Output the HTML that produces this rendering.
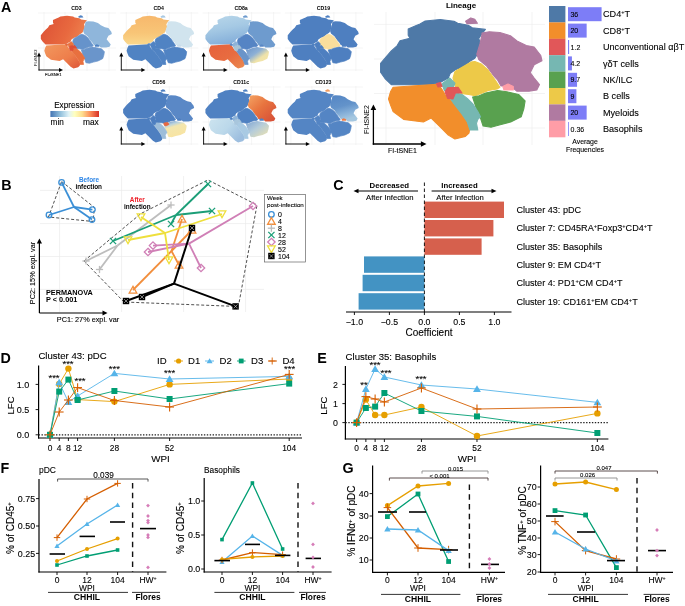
<!DOCTYPE html>
<html><head><meta charset="utf-8"><style>html,body{margin:0;padding:0;background:#fff;}svg{display:block;will-change:transform;}</style></head>
<body><svg width="685" height="606" viewBox="0 0 685 606" font-family="Liberation Sans, sans-serif">
<rect width="685" height="606" fill="#fff"/>
<text x="1.00" y="12.10" font-size="14.3" text-anchor="start" font-weight="bold" fill="#000">A</text>
<defs><linearGradient id="g3a" x1="0" y1="0.3" x2="1" y2="0.6"><stop offset="0" stop-color="#DD5236"/><stop offset="0.6" stop-color="#E8693F"/><stop offset="1" stop-color="#EE8350"/></linearGradient></defs>
<defs><linearGradient id="g3b" x1="0" y1="0" x2="1" y2="1"><stop offset="0" stop-color="#F2985E"/><stop offset="0.6" stop-color="#EE7E4B"/><stop offset="1" stop-color="#DD5537"/></linearGradient></defs>
<defs><linearGradient id="g4a" x1="0" y1="0" x2="0" y2="1"><stop offset="0" stop-color="#F7B86C"/><stop offset="0.6" stop-color="#F8C577"/><stop offset="1" stop-color="#FAD88C"/></linearGradient></defs>
<defs><linearGradient id="g8a" x1="0" y1="0" x2="0.3" y2="1"><stop offset="0" stop-color="#B9D7EA"/><stop offset="0.5" stop-color="#A5C9E4"/><stop offset="1" stop-color="#86B0DA"/></linearGradient></defs>
<defs><linearGradient id="g8b" x1="0" y1="0" x2="1" y2="1"><stop offset="0" stop-color="#E6613C"/><stop offset="0.55" stop-color="#E86C40"/><stop offset="1" stop-color="#EB8A50"/></linearGradient></defs>
<defs><linearGradient id="g8c" x1="0" y1="0" x2="1" y2="1"><stop offset="0" stop-color="#6A93C9"/><stop offset="0.4" stop-color="#8DB0D6"/><stop offset="0.65" stop-color="#EEE2AA"/><stop offset="1" stop-color="#F8E8A6"/></linearGradient></defs>
<defs><linearGradient id="g56" x1="0" y1="0" x2="0.4" y2="1"><stop offset="0" stop-color="#5C88C5"/><stop offset="0.28" stop-color="#B9D2DE"/><stop offset="0.45" stop-color="#F3E6AE"/><stop offset="1" stop-color="#F8E4A2"/></linearGradient></defs>
<defs><linearGradient id="g11a" x1="0" y1="0" x2="1" y2="1"><stop offset="0" stop-color="#F4A464"/><stop offset="0.45" stop-color="#E8743F"/><stop offset="1" stop-color="#D44B36"/></linearGradient></defs>
<defs><linearGradient id="g11b" x1="0" y1="0" x2="1" y2="0.6"><stop offset="0" stop-color="#CDE4EF"/><stop offset="0.55" stop-color="#BBD8EA"/><stop offset="1" stop-color="#9DBEDF"/></linearGradient></defs>
<defs><linearGradient id="g11c" x1="0" y1="0" x2="1" y2="1"><stop offset="0" stop-color="#7FA4D2"/><stop offset="0.45" stop-color="#B5CCDA"/><stop offset="1" stop-color="#F1E4AC"/></linearGradient></defs>
<defs><linearGradient id="g123" x1="0" y1="0" x2="0.3" y2="1"><stop offset="0" stop-color="#5485C4"/><stop offset="0.5" stop-color="#6393CA"/><stop offset="0.8" stop-color="#8AB3DA"/><stop offset="1" stop-color="#A5C7E0"/></linearGradient></defs>
<line x1="44.00" y1="12.00" x2="44.00" y2="71.00" stroke="#EBEBEB" stroke-width="0.5"/>
<line x1="65.00" y1="12.00" x2="65.00" y2="71.00" stroke="#EBEBEB" stroke-width="0.5"/>
<line x1="87.00" y1="12.00" x2="87.00" y2="71.00" stroke="#EBEBEB" stroke-width="0.5"/>
<line x1="109.00" y1="12.00" x2="109.00" y2="71.00" stroke="#EBEBEB" stroke-width="0.5"/>
<line x1="38.00" y1="13.00" x2="116.00" y2="13.00" stroke="#EBEBEB" stroke-width="0.5"/>
<line x1="38.00" y1="48.00" x2="116.00" y2="48.00" stroke="#EBEBEB" stroke-width="0.5"/>
<line x1="38.00" y1="70.00" x2="116.00" y2="70.00" stroke="#EBEBEB" stroke-width="0.5"/>
<g><polygon points="40.82,35.15 40.82,39.02 42.76,41.80 45.53,44.52 62.56,44.52 65.38,44.00 67.40,43.34 70.61,41.58 71.45,39.55 73.65,37.92 77.08,36.65 79.94,34.32 82.27,32.86 83.42,31.10 84.87,27.06 84.03,24.15 85.18,22.39 86.94,20.19 81.13,19.49 79.37,18.34 74.75,17.51 73.12,16.58 67.05,15.84 60.45,16.50 58.16,17.77 56.27,18.61 52.97,20.02 52.97,22.74 53.76,24.11 49.36,25.21 48.04,27.45 45.53,29.65 43.64,31.85" fill="url(#g3a)"/><polygon points="46.32,45.62 62.56,44.57 65.99,44.30 67.75,46.46 69.47,49.36 72.64,52.27 76.64,57.50 78.97,60.94 80.16,63.58 79.72,65.78 78.14,67.27 73.52,68.42 70.61,66.70 67.14,63.22 63.09,59.18 59.66,60.94 50.94,59.79 46.32,56.32 45.18,53.41 44.30,50.82 45.18,47.65" fill="url(#g3b)"/><polygon points="85.44,21.82 88.65,21.25 93.32,21.56 97.94,23.01 100.84,25.30 104.93,27.32 108.41,27.94 111.31,31.68 111.84,34.01 108.41,35.77 106.65,39.24 108.41,41.58 110.74,44.48 109.55,46.81 106.12,47.38 100.84,47.38 97.94,45.05 93.80,45.05 92.30,42.46 90.41,40.39 87.51,36.34 84.03,33.44 83.15,31.10 84.56,26.48 85.44,22.39" fill="#8FB6DB"/><polygon points="78.22,16.58 80.51,15.13 82.27,15.75 83.42,17.46 78.84,17.64" fill="#5083C3"/><polygon points="73.56,38.67 77.08,36.65 80.51,34.58 82.27,34.32 85.18,35.46 88.08,38.06 90.98,42.15 93.32,45.62 92.04,46.42 88.26,47.08 82.45,49.41 79.54,48.84 76.20,48.40 74.00,45.98 72.68,41.58" fill="#6693CB" stroke="#6693CB" stroke-width="0.7" stroke-linejoin="round"/><polygon points="81.30,49.98 84.21,49.41 87.07,48.22 92.30,47.08 96.35,47.65 101.54,48.84 104.40,51.70 103.83,55.17 102.69,58.65 98.07,60.94 93.45,62.12 89.40,63.27 85.92,62.70 84.78,59.22 83.02,55.17 81.88,51.70" fill="#6A95CB" stroke="#6A95CB" stroke-width="0.7" stroke-linejoin="round"/><polygon points="67.75,44.17 71.18,41.58 73.56,43.86 72.94,45.32 70.61,47.08 68.90,47.08" fill="#E9733F" stroke="#E9733F" stroke-width="0.7" stroke-linejoin="round"/><polygon points="71.49,50.55 74.35,48.22 76.64,48.84 78.97,50.55 81.30,52.84 83.59,56.32 84.78,58.65 83.59,59.79 83.02,61.55 83.59,64.46 80.16,64.46 78.97,60.94 76.64,57.50 72.64,52.27" fill="#E8703F" stroke="#E8703F" stroke-width="0.7" stroke-linejoin="round"/><polygon points="69.16,47.65 70.30,45.93 71.80,45.80 74.92,45.62 76.64,48.18 73.78,48.18 72.64,50.82 70.30,50.55" fill="#DC4F36" stroke="#DC4F36" stroke-width="0.7" stroke-linejoin="round"/><polygon points="65.42,44.00 67.18,43.56 67.84,45.32 66.08,45.54" fill="#E46A40" stroke="#E46A40" stroke-width="0.7" stroke-linejoin="round"/><polygon points="94.59,45.36 96.88,44.22 99.21,45.36 99.21,46.86 95.12,46.86" fill="#5083C3"/></g>
<text x="76.50" y="9.86" font-size="5.2" text-anchor="middle" font-weight="bold" fill="#000">CD3</text>
<line x1="39.00" y1="70.45" x2="39.00" y2="56.00" stroke="#000" stroke-width="0.9"/>
<polygon points="37.00,56.50 41.00,56.50 39.00,52.50" fill="#000"/>
<line x1="38.55" y1="70.00" x2="59.50" y2="70.00" stroke="#000" stroke-width="0.9"/>
<polygon points="59.00,68.00 59.00,72.00 63.00,70.00" fill="#000"/>
<line x1="126.30" y1="12.00" x2="126.30" y2="71.00" stroke="#EBEBEB" stroke-width="0.5"/>
<line x1="147.30" y1="12.00" x2="147.30" y2="71.00" stroke="#EBEBEB" stroke-width="0.5"/>
<line x1="169.30" y1="12.00" x2="169.30" y2="71.00" stroke="#EBEBEB" stroke-width="0.5"/>
<line x1="191.30" y1="12.00" x2="191.30" y2="71.00" stroke="#EBEBEB" stroke-width="0.5"/>
<line x1="120.30" y1="13.00" x2="198.30" y2="13.00" stroke="#EBEBEB" stroke-width="0.5"/>
<line x1="120.30" y1="48.00" x2="198.30" y2="48.00" stroke="#EBEBEB" stroke-width="0.5"/>
<line x1="120.30" y1="70.00" x2="198.30" y2="70.00" stroke="#EBEBEB" stroke-width="0.5"/>
<g><polygon points="123.12,35.15 123.12,39.02 125.06,41.80 127.83,44.52 144.86,44.52 147.68,44.00 149.70,43.34 152.91,41.58 153.75,39.55 155.95,37.92 159.38,36.65 162.24,34.32 164.57,32.86 165.72,31.10 167.17,27.06 166.33,24.15 167.48,22.39 169.24,20.19 163.43,19.49 161.67,18.34 157.05,17.51 155.42,16.58 149.35,15.84 142.75,16.50 140.46,17.77 138.57,18.61 135.27,20.02 135.27,22.74 136.06,24.11 131.66,25.21 130.34,27.45 127.83,29.65 125.94,31.85" fill="url(#g4a)"/><polygon points="128.62,45.62 144.86,44.57 148.29,44.30 150.05,46.46 151.77,49.36 154.94,52.27 158.94,57.50 161.27,60.94 162.46,63.58 162.02,65.78 160.44,67.27 155.82,68.42 152.91,66.70 149.44,63.22 145.39,59.18 141.96,60.94 133.24,59.79 128.62,56.32 127.48,53.41 126.60,50.82 127.48,47.65" fill="#5083C3"/><polygon points="167.74,21.82 170.95,21.25 175.62,21.56 180.24,23.01 183.14,25.30 187.23,27.32 190.71,27.94 193.61,31.68 194.14,34.01 190.71,35.77 188.95,39.24 190.71,41.58 193.04,44.48 191.85,46.81 188.42,47.38 183.14,47.38 180.24,45.05 176.10,45.05 174.60,42.46 172.71,40.39 169.81,36.34 166.33,33.44 165.45,31.10 166.86,26.48 167.74,22.39" fill="#D1E4EE"/><polygon points="160.52,16.58 162.81,15.13 164.57,15.75 165.72,17.46 161.14,17.64" fill="#A9C9E3"/><polygon points="155.86,38.67 159.38,36.65 162.81,34.58 164.57,34.32 167.48,35.46 170.38,38.06 173.28,42.15 175.62,45.62 174.34,46.42 170.56,47.08 164.75,49.41 161.84,48.84 158.50,48.40 156.30,45.98 154.98,41.58" fill="#5083C3" stroke="#5083C3" stroke-width="0.7" stroke-linejoin="round"/><polygon points="163.60,49.98 166.51,49.41 169.37,48.22 174.60,47.08 178.65,47.65 183.84,48.84 186.70,51.70 186.13,55.17 184.99,58.65 180.37,60.94 175.75,62.12 171.70,63.27 168.22,62.70 167.08,59.22 165.32,55.17 164.18,51.70" fill="#5083C3" stroke="#5083C3" stroke-width="0.7" stroke-linejoin="round"/><polygon points="150.05,44.17 153.48,41.58 155.86,43.86 155.24,45.32 152.91,47.08 151.20,47.08" fill="#5083C3" stroke="#5083C3" stroke-width="0.7" stroke-linejoin="round"/><polygon points="153.79,50.55 156.65,48.22 158.94,48.84 161.27,50.55 163.60,52.84 165.89,56.32 167.08,58.65 165.89,59.79 165.32,61.55 165.89,64.46 162.46,64.46 161.27,60.94 158.94,57.50 154.94,52.27" fill="#5083C3" stroke="#5083C3" stroke-width="0.7" stroke-linejoin="round"/><polygon points="151.46,47.65 152.60,45.93 154.10,45.80 157.22,45.62 158.94,48.18 156.08,48.18 154.94,50.82 152.60,50.55" fill="#5083C3" stroke="#5083C3" stroke-width="0.7" stroke-linejoin="round"/><polygon points="147.72,44.00 149.48,43.56 150.14,45.32 148.38,45.54" fill="#5083C3" stroke="#5083C3" stroke-width="0.7" stroke-linejoin="round"/><polygon points="176.89,45.36 179.18,44.22 181.51,45.36 181.51,46.86 177.42,46.86" fill="#C9DDEB"/></g>
<text x="158.80" y="9.86" font-size="5.2" text-anchor="middle" font-weight="bold" fill="#000">CD4</text>
<line x1="121.30" y1="70.45" x2="121.30" y2="56.00" stroke="#000" stroke-width="0.9"/>
<polygon points="119.30,56.50 123.30,56.50 121.30,52.50" fill="#000"/>
<line x1="120.85" y1="70.00" x2="141.80" y2="70.00" stroke="#000" stroke-width="0.9"/>
<polygon points="141.30,68.00 141.30,72.00 145.30,70.00" fill="#000"/>
<line x1="208.60" y1="12.00" x2="208.60" y2="71.00" stroke="#EBEBEB" stroke-width="0.5"/>
<line x1="229.60" y1="12.00" x2="229.60" y2="71.00" stroke="#EBEBEB" stroke-width="0.5"/>
<line x1="251.60" y1="12.00" x2="251.60" y2="71.00" stroke="#EBEBEB" stroke-width="0.5"/>
<line x1="273.60" y1="12.00" x2="273.60" y2="71.00" stroke="#EBEBEB" stroke-width="0.5"/>
<line x1="202.60" y1="13.00" x2="280.60" y2="13.00" stroke="#EBEBEB" stroke-width="0.5"/>
<line x1="202.60" y1="48.00" x2="280.60" y2="48.00" stroke="#EBEBEB" stroke-width="0.5"/>
<line x1="202.60" y1="70.00" x2="280.60" y2="70.00" stroke="#EBEBEB" stroke-width="0.5"/>
<g><polygon points="205.42,35.15 205.42,39.02 207.36,41.80 210.13,44.52 227.16,44.52 229.98,44.00 232.00,43.34 235.21,41.58 236.05,39.55 238.25,37.92 241.68,36.65 244.54,34.32 246.87,32.86 248.02,31.10 249.47,27.06 248.63,24.15 249.78,22.39 251.54,20.19 245.73,19.49 243.97,18.34 239.35,17.51 237.72,16.58 231.65,15.84 225.05,16.50 222.76,17.77 220.87,18.61 217.57,20.02 217.57,22.74 218.36,24.11 213.96,25.21 212.64,27.45 210.13,29.65 208.24,31.85" fill="url(#g8a)"/><polygon points="210.92,45.62 227.16,44.57 230.59,44.30 232.35,46.46 234.07,49.36 237.24,52.27 241.24,57.50 243.57,60.94 244.76,63.58 244.32,65.78 242.74,67.27 238.12,68.42 235.21,66.70 231.74,63.22 227.69,59.18 224.26,60.94 215.54,59.79 210.92,56.32 209.78,53.41 208.90,50.82 209.78,47.65" fill="url(#g8b)"/><polygon points="250.04,21.82 253.25,21.25 257.92,21.56 262.54,23.01 265.44,25.30 269.53,27.32 273.01,27.94 275.91,31.68 276.44,34.01 273.01,35.77 271.25,39.24 273.01,41.58 275.34,44.48 274.15,46.81 270.72,47.38 265.44,47.38 262.54,45.05 258.40,45.05 256.90,42.46 255.01,40.39 252.11,36.34 248.63,33.44 247.75,31.10 249.16,26.48 250.04,22.39" fill="#6E9BCE"/><polygon points="242.82,16.58 245.11,15.13 246.87,15.75 248.02,17.46 243.44,17.64" fill="#6E9BCE"/><polygon points="238.16,38.67 241.68,36.65 245.11,34.58 246.87,34.32 249.78,35.46 252.68,38.06 255.58,42.15 257.92,45.62 256.64,46.42 252.86,47.08 247.05,49.41 244.14,48.84 240.80,48.40 238.60,45.98 237.28,41.58" fill="#5584C4" stroke="#5584C4" stroke-width="0.7" stroke-linejoin="round"/><polygon points="245.90,49.98 248.81,49.41 251.67,48.22 256.90,47.08 260.95,47.65 266.14,48.84 269.00,51.70 268.43,55.17 267.29,58.65 262.67,60.94 258.05,62.12 254.00,63.27 250.52,62.70 249.38,59.22 247.62,55.17 246.48,51.70" fill="url(#g8c)"/><polygon points="232.35,44.17 235.78,41.58 238.16,43.86 237.54,45.32 235.21,47.08 233.50,47.08" fill="#8DB3D9" stroke="#8DB3D9" stroke-width="0.7" stroke-linejoin="round"/><polygon points="236.09,50.55 238.95,48.22 241.24,48.84 243.57,50.55 245.90,52.84 248.19,56.32 249.38,58.65 248.19,59.79 247.62,61.55 248.19,64.46 244.76,64.46 243.57,60.94 241.24,57.50 237.24,52.27" fill="#6A94C9" stroke="#6A94C9" stroke-width="0.7" stroke-linejoin="round"/><polygon points="233.76,47.65 234.90,45.93 236.40,45.80 239.52,45.62 241.24,48.18 238.38,48.18 237.24,50.82 234.90,50.55" fill="#A9C4D6" stroke="#A9C4D6" stroke-width="0.7" stroke-linejoin="round"/><polygon points="230.02,44.00 231.78,43.56 232.44,45.32 230.68,45.54" fill="#5A88C5" stroke="#5A88C5" stroke-width="0.7" stroke-linejoin="round"/><polygon points="259.19,45.36 261.48,44.22 263.81,45.36 263.81,46.86 259.72,46.86" fill="#5A88C5"/></g>
<text x="241.10" y="9.86" font-size="5.2" text-anchor="middle" font-weight="bold" fill="#000">CD8a</text>
<line x1="203.60" y1="70.45" x2="203.60" y2="56.00" stroke="#000" stroke-width="0.9"/>
<polygon points="201.60,56.50 205.60,56.50 203.60,52.50" fill="#000"/>
<line x1="203.15" y1="70.00" x2="224.10" y2="70.00" stroke="#000" stroke-width="0.9"/>
<polygon points="223.60,68.00 223.60,72.00 227.60,70.00" fill="#000"/>
<line x1="290.90" y1="12.00" x2="290.90" y2="71.00" stroke="#EBEBEB" stroke-width="0.5"/>
<line x1="311.90" y1="12.00" x2="311.90" y2="71.00" stroke="#EBEBEB" stroke-width="0.5"/>
<line x1="333.90" y1="12.00" x2="333.90" y2="71.00" stroke="#EBEBEB" stroke-width="0.5"/>
<line x1="355.90" y1="12.00" x2="355.90" y2="71.00" stroke="#EBEBEB" stroke-width="0.5"/>
<line x1="284.90" y1="13.00" x2="362.90" y2="13.00" stroke="#EBEBEB" stroke-width="0.5"/>
<line x1="284.90" y1="48.00" x2="362.90" y2="48.00" stroke="#EBEBEB" stroke-width="0.5"/>
<line x1="284.90" y1="70.00" x2="362.90" y2="70.00" stroke="#EBEBEB" stroke-width="0.5"/>
<g><polygon points="287.72,35.15 287.72,39.02 289.66,41.80 292.43,44.52 309.46,44.52 312.28,44.00 314.30,43.34 317.51,41.58 318.35,39.55 320.55,37.92 323.98,36.65 326.84,34.32 329.17,32.86 330.32,31.10 331.77,27.06 330.93,24.15 332.08,22.39 333.84,20.19 328.03,19.49 326.27,18.34 321.65,17.51 320.02,16.58 313.95,15.84 307.35,16.50 305.06,17.77 303.17,18.61 299.87,20.02 299.87,22.74 300.66,24.11 296.26,25.21 294.94,27.45 292.43,29.65 290.54,31.85" fill="#4E7FC0"/><polygon points="293.22,45.62 309.46,44.57 312.89,44.30 314.65,46.46 316.37,49.36 319.54,52.27 323.54,57.50 325.87,60.94 327.06,63.58 326.62,65.78 325.04,67.27 320.42,68.42 317.51,66.70 314.04,63.22 309.99,59.18 306.56,60.94 297.84,59.79 293.22,56.32 292.08,53.41 291.20,50.82 292.08,47.65" fill="#4E7FC0"/><polygon points="332.34,21.82 335.55,21.25 340.22,21.56 344.84,23.01 347.74,25.30 351.83,27.32 355.31,27.94 358.21,31.68 358.74,34.01 355.31,35.77 353.55,39.24 355.31,41.58 357.64,44.48 356.45,46.81 353.02,47.38 347.74,47.38 344.84,45.05 340.70,45.05 339.20,42.46 337.31,40.39 334.41,36.34 330.93,33.44 330.05,31.10 331.46,26.48 332.34,22.39" fill="#4E7FC0"/><polygon points="325.12,16.58 327.41,15.13 329.17,15.75 330.32,17.46 325.74,17.64" fill="#4E7FC0"/><polygon points="320.46,38.67 323.98,36.65 327.41,34.58 329.17,34.32 332.08,35.46 334.98,38.06 337.88,42.15 340.22,45.62 338.94,46.42 335.16,47.08 329.35,49.41 326.44,48.84 323.10,48.40 320.90,45.98 319.58,41.58" fill="#FADE9C" stroke="#FADE9C" stroke-width="0.7" stroke-linejoin="round"/><polygon points="328.20,49.98 331.11,49.41 333.97,48.22 339.20,47.08 343.25,47.65 348.44,48.84 351.30,51.70 350.73,55.17 349.59,58.65 344.97,60.94 340.35,62.12 336.30,63.27 332.82,62.70 331.68,59.22 329.92,55.17 328.78,51.70" fill="#4E7FC0" stroke="#4E7FC0" stroke-width="0.7" stroke-linejoin="round"/><polygon points="314.65,44.17 318.08,41.58 320.46,43.86 319.84,45.32 317.51,47.08 315.80,47.08" fill="#4E7FC0" stroke="#4E7FC0" stroke-width="0.7" stroke-linejoin="round"/><polygon points="318.39,50.55 321.25,48.22 323.54,48.84 325.87,50.55 328.20,52.84 330.49,56.32 331.68,58.65 330.49,59.79 329.92,61.55 330.49,64.46 327.06,64.46 325.87,60.94 323.54,57.50 319.54,52.27" fill="#4E7FC0" stroke="#4E7FC0" stroke-width="0.7" stroke-linejoin="round"/><polygon points="316.06,47.65 317.20,45.93 318.70,45.80 321.82,45.62 323.54,48.18 320.68,48.18 319.54,50.82 317.20,50.55" fill="#4E7FC0" stroke="#4E7FC0" stroke-width="0.7" stroke-linejoin="round"/><polygon points="312.32,44.00 314.08,43.56 314.74,45.32 312.98,45.54" fill="#4E7FC0" stroke="#4E7FC0" stroke-width="0.7" stroke-linejoin="round"/><polygon points="341.49,45.36 343.78,44.22 346.11,45.36 346.11,46.86 342.02,46.86" fill="#4E7FC0"/></g>
<text x="323.40" y="9.86" font-size="5.2" text-anchor="middle" font-weight="bold" fill="#000">CD19</text>
<line x1="285.90" y1="70.45" x2="285.90" y2="56.00" stroke="#000" stroke-width="0.9"/>
<polygon points="283.90,56.50 287.90,56.50 285.90,52.50" fill="#000"/>
<line x1="285.45" y1="70.00" x2="306.40" y2="70.00" stroke="#000" stroke-width="0.9"/>
<polygon points="305.90,68.00 305.90,72.00 309.90,70.00" fill="#000"/>
<line x1="126.30" y1="86.00" x2="126.30" y2="145.00" stroke="#EBEBEB" stroke-width="0.5"/>
<line x1="147.30" y1="86.00" x2="147.30" y2="145.00" stroke="#EBEBEB" stroke-width="0.5"/>
<line x1="169.30" y1="86.00" x2="169.30" y2="145.00" stroke="#EBEBEB" stroke-width="0.5"/>
<line x1="191.30" y1="86.00" x2="191.30" y2="145.00" stroke="#EBEBEB" stroke-width="0.5"/>
<line x1="120.30" y1="87.00" x2="198.30" y2="87.00" stroke="#EBEBEB" stroke-width="0.5"/>
<line x1="120.30" y1="122.00" x2="198.30" y2="122.00" stroke="#EBEBEB" stroke-width="0.5"/>
<line x1="120.30" y1="144.00" x2="198.30" y2="144.00" stroke="#EBEBEB" stroke-width="0.5"/>
<g><polygon points="123.12,109.15 123.12,113.02 125.06,115.80 127.83,118.52 144.86,118.52 147.68,118.00 149.70,117.34 152.91,115.58 153.75,113.55 155.95,111.92 159.38,110.65 162.24,108.32 164.57,106.86 165.72,105.10 167.17,101.06 166.33,98.15 167.48,96.39 169.24,94.19 163.43,93.49 161.67,92.34 157.05,91.51 155.42,90.58 149.35,89.84 142.75,90.50 140.46,91.77 138.57,92.61 135.27,94.02 135.27,96.74 136.06,98.11 131.66,99.21 130.34,101.45 127.83,103.65 125.94,105.85" fill="#4E7FC0"/><polygon points="128.62,119.62 144.86,118.57 148.29,118.30 150.05,120.46 151.77,123.36 154.94,126.27 158.94,131.50 161.27,134.94 162.46,137.58 162.02,139.78 160.44,141.27 155.82,142.42 152.91,140.70 149.44,137.22 145.39,133.18 141.96,134.94 133.24,133.79 128.62,130.32 127.48,127.41 126.60,124.82 127.48,121.65" fill="#4E7FC0"/><polygon points="167.74,95.82 170.95,95.25 175.62,95.56 180.24,97.01 183.14,99.30 187.23,101.32 190.71,101.94 193.61,105.68 194.14,108.01 190.71,109.77 188.95,113.24 190.71,115.58 193.04,118.48 191.85,120.81 188.42,121.38 183.14,121.38 180.24,119.05 176.10,119.05 174.60,116.46 172.71,114.39 169.81,110.34 166.33,107.44 165.45,105.10 166.86,100.48 167.74,96.39" fill="#5A88C6"/><polygon points="160.52,90.58 162.81,89.13 164.57,89.75 165.72,91.46 161.14,91.64" fill="#4E7FC0"/><polygon points="155.86,112.67 159.38,110.65 162.81,108.58 164.57,108.32 167.48,109.46 170.38,112.06 173.28,116.15 175.62,119.62 174.34,120.42 170.56,121.08 164.75,123.41 161.84,122.84 158.50,122.40 156.30,119.98 154.98,115.58" fill="#4E7FC0" stroke="#4E7FC0" stroke-width="0.7" stroke-linejoin="round"/><polygon points="163.60,123.98 166.51,123.41 169.37,122.22 174.60,121.08 178.65,121.65 183.84,122.84 186.70,125.70 186.13,129.17 184.99,132.65 180.37,134.94 175.75,136.12 171.70,137.27 168.22,136.70 167.08,133.22 165.32,129.17 164.18,125.70" fill="url(#g56)"/><polygon points="150.05,118.17 153.48,115.58 155.86,117.86 155.24,119.32 152.91,121.08 151.20,121.08" fill="#4E7FC0" stroke="#4E7FC0" stroke-width="0.7" stroke-linejoin="round"/><polygon points="153.79,124.55 156.65,122.22 158.94,122.84 161.27,124.55 163.60,126.84 165.89,130.32 167.08,132.65 165.89,133.79 165.32,135.55 165.89,138.46 162.46,138.46 161.27,134.94 158.94,131.50 154.94,126.27" fill="#9DBDD9" stroke="#9DBDD9" stroke-width="0.7" stroke-linejoin="round"/><polygon points="151.46,121.65 152.60,119.93 154.10,119.80 157.22,119.62 158.94,122.18 156.08,122.18 154.94,124.82 152.60,124.55" fill="#4E7FC0" stroke="#4E7FC0" stroke-width="0.7" stroke-linejoin="round"/><polygon points="147.72,118.00 149.48,117.56 150.14,119.32 148.38,119.54" fill="#4E7FC0" stroke="#4E7FC0" stroke-width="0.7" stroke-linejoin="round"/><polygon points="176.89,119.36 179.18,118.22 181.51,119.36 181.51,120.86 177.42,120.86" fill="#4E7FC0"/><polygon points="163.78,123.06 167.74,122.40 169.06,124.38 165.98,125.92 164.22,125.26" fill="#E8683F" stroke="#E8683F" stroke-width="0.7" stroke-linejoin="round"/></g>
<text x="158.80" y="83.86" font-size="5.2" text-anchor="middle" font-weight="bold" fill="#000">CD56</text>
<line x1="121.30" y1="144.45" x2="121.30" y2="130.00" stroke="#000" stroke-width="0.9"/>
<polygon points="119.30,130.50 123.30,130.50 121.30,126.50" fill="#000"/>
<line x1="120.85" y1="144.00" x2="141.80" y2="144.00" stroke="#000" stroke-width="0.9"/>
<polygon points="141.30,142.00 141.30,146.00 145.30,144.00" fill="#000"/>
<line x1="208.60" y1="86.00" x2="208.60" y2="145.00" stroke="#EBEBEB" stroke-width="0.5"/>
<line x1="229.60" y1="86.00" x2="229.60" y2="145.00" stroke="#EBEBEB" stroke-width="0.5"/>
<line x1="251.60" y1="86.00" x2="251.60" y2="145.00" stroke="#EBEBEB" stroke-width="0.5"/>
<line x1="273.60" y1="86.00" x2="273.60" y2="145.00" stroke="#EBEBEB" stroke-width="0.5"/>
<line x1="202.60" y1="87.00" x2="280.60" y2="87.00" stroke="#EBEBEB" stroke-width="0.5"/>
<line x1="202.60" y1="122.00" x2="280.60" y2="122.00" stroke="#EBEBEB" stroke-width="0.5"/>
<line x1="202.60" y1="144.00" x2="280.60" y2="144.00" stroke="#EBEBEB" stroke-width="0.5"/>
<g><polygon points="205.42,109.15 205.42,113.02 207.36,115.80 210.13,118.52 227.16,118.52 229.98,118.00 232.00,117.34 235.21,115.58 236.05,113.55 238.25,111.92 241.68,110.65 244.54,108.32 246.87,106.86 248.02,105.10 249.47,101.06 248.63,98.15 249.78,96.39 251.54,94.19 245.73,93.49 243.97,92.34 239.35,91.51 237.72,90.58 231.65,89.84 225.05,90.50 222.76,91.77 220.87,92.61 217.57,94.02 217.57,96.74 218.36,98.11 213.96,99.21 212.64,101.45 210.13,103.65 208.24,105.85" fill="#4F81C2"/><polygon points="210.92,119.62 227.16,118.57 230.59,118.30 232.35,120.46 234.07,123.36 237.24,126.27 241.24,131.50 243.57,134.94 244.76,137.58 244.32,139.78 242.74,141.27 238.12,142.42 235.21,140.70 231.74,137.22 227.69,133.18 224.26,134.94 215.54,133.79 210.92,130.32 209.78,127.41 208.90,124.82 209.78,121.65" fill="url(#g11b)"/><polygon points="250.04,95.82 253.25,95.25 257.92,95.56 262.54,97.01 265.44,99.30 269.53,101.32 273.01,101.94 275.91,105.68 276.44,108.01 273.01,109.77 271.25,113.24 273.01,115.58 275.34,118.48 274.15,120.81 270.72,121.38 265.44,121.38 262.54,119.05 258.40,119.05 256.90,116.46 255.01,114.39 252.11,110.34 248.63,107.44 247.75,105.10 249.16,100.48 250.04,96.39" fill="url(#g11a)"/><polygon points="242.82,90.58 245.11,89.13 246.87,89.75 248.02,91.46 243.44,91.64" fill="#4F81C2"/><polygon points="238.16,112.67 241.68,110.65 245.11,108.58 246.87,108.32 249.78,109.46 252.68,112.06 255.58,116.15 257.92,119.62 256.64,120.42 252.86,121.08 247.05,123.41 244.14,122.84 240.80,122.40 238.60,119.98 237.28,115.58" fill="#4F81C2" stroke="#4F81C2" stroke-width="0.7" stroke-linejoin="round"/><polygon points="245.90,123.98 248.81,123.41 251.67,122.22 256.90,121.08 260.95,121.65 266.14,122.84 269.00,125.70 268.43,129.17 267.29,132.65 262.67,134.94 258.05,136.12 254.00,137.27 250.52,136.70 249.38,133.22 247.62,129.17 246.48,125.70" fill="url(#g11c)"/><polygon points="232.35,118.17 235.78,115.58 238.16,117.86 237.54,119.32 235.21,121.08 233.50,121.08" fill="#8DB3D9" stroke="#8DB3D9" stroke-width="0.7" stroke-linejoin="round"/><polygon points="236.09,124.55 238.95,122.22 241.24,122.84 243.57,124.55 245.90,126.84 248.19,130.32 249.38,132.65 248.19,133.79 247.62,135.55 248.19,138.46 244.76,138.46 243.57,134.94 241.24,131.50 237.24,126.27" fill="#A9CAE3" stroke="#A9CAE3" stroke-width="0.7" stroke-linejoin="round"/><polygon points="233.76,121.65 234.90,119.93 236.40,119.80 239.52,119.62 241.24,122.18 238.38,122.18 237.24,124.82 234.90,124.55" fill="#A8C6DD" stroke="#A8C6DD" stroke-width="0.7" stroke-linejoin="round"/><polygon points="230.02,118.00 231.78,117.56 232.44,119.32 230.68,119.54" fill="#4F81C2" stroke="#4F81C2" stroke-width="0.7" stroke-linejoin="round"/><polygon points="259.19,119.36 261.48,118.22 263.81,119.36 263.81,120.86 259.72,120.86" fill="#4F81C2"/></g>
<text x="241.10" y="83.86" font-size="5.2" text-anchor="middle" font-weight="bold" fill="#000">CD11c</text>
<line x1="203.60" y1="144.45" x2="203.60" y2="130.00" stroke="#000" stroke-width="0.9"/>
<polygon points="201.60,130.50 205.60,130.50 203.60,126.50" fill="#000"/>
<line x1="203.15" y1="144.00" x2="224.10" y2="144.00" stroke="#000" stroke-width="0.9"/>
<polygon points="223.60,142.00 223.60,146.00 227.60,144.00" fill="#000"/>
<line x1="290.90" y1="86.00" x2="290.90" y2="145.00" stroke="#EBEBEB" stroke-width="0.5"/>
<line x1="311.90" y1="86.00" x2="311.90" y2="145.00" stroke="#EBEBEB" stroke-width="0.5"/>
<line x1="333.90" y1="86.00" x2="333.90" y2="145.00" stroke="#EBEBEB" stroke-width="0.5"/>
<line x1="355.90" y1="86.00" x2="355.90" y2="145.00" stroke="#EBEBEB" stroke-width="0.5"/>
<line x1="284.90" y1="87.00" x2="362.90" y2="87.00" stroke="#EBEBEB" stroke-width="0.5"/>
<line x1="284.90" y1="122.00" x2="362.90" y2="122.00" stroke="#EBEBEB" stroke-width="0.5"/>
<line x1="284.90" y1="144.00" x2="362.90" y2="144.00" stroke="#EBEBEB" stroke-width="0.5"/>
<g><polygon points="287.72,109.15 287.72,113.02 289.66,115.80 292.43,118.52 309.46,118.52 312.28,118.00 314.30,117.34 317.51,115.58 318.35,113.55 320.55,111.92 323.98,110.65 326.84,108.32 329.17,106.86 330.32,105.10 331.77,101.06 330.93,98.15 332.08,96.39 333.84,94.19 328.03,93.49 326.27,92.34 321.65,91.51 320.02,90.58 313.95,89.84 307.35,90.50 305.06,91.77 303.17,92.61 299.87,94.02 299.87,96.74 300.66,98.11 296.26,99.21 294.94,101.45 292.43,103.65 290.54,105.85" fill="#5485C4"/><polygon points="293.22,119.62 309.46,118.57 312.89,118.30 314.65,120.46 316.37,123.36 319.54,126.27 323.54,131.50 325.87,134.94 327.06,137.58 326.62,139.78 325.04,141.27 320.42,142.42 317.51,140.70 314.04,137.22 309.99,133.18 306.56,134.94 297.84,133.79 293.22,130.32 292.08,127.41 291.20,124.82 292.08,121.65" fill="#5485C4"/><polygon points="332.34,95.82 335.55,95.25 340.22,95.56 344.84,97.01 347.74,99.30 351.83,101.32 355.31,101.94 358.21,105.68 358.74,108.01 355.31,109.77 353.55,113.24 355.31,115.58 357.64,118.48 356.45,120.81 353.02,121.38 347.74,121.38 344.84,119.05 340.70,119.05 339.20,116.46 337.31,114.39 334.41,110.34 330.93,107.44 330.05,105.10 331.46,100.48 332.34,96.39" fill="url(#g123)"/><polygon points="325.12,90.58 327.41,89.13 329.17,89.75 330.32,91.46 325.74,91.64" fill="#F29B5E"/><polygon points="320.46,112.67 323.98,110.65 327.41,108.58 329.17,108.32 332.08,109.46 334.98,112.06 337.88,116.15 340.22,119.62 338.94,120.42 335.16,121.08 329.35,123.41 326.44,122.84 323.10,122.40 320.90,119.98 319.58,115.58" fill="#5485C4" stroke="#5485C4" stroke-width="0.7" stroke-linejoin="round"/><polygon points="328.20,123.98 331.11,123.41 333.97,122.22 339.20,121.08 343.25,121.65 348.44,122.84 351.30,125.70 350.73,129.17 349.59,132.65 344.97,134.94 340.35,136.12 336.30,137.27 332.82,136.70 331.68,133.22 329.92,129.17 328.78,125.70" fill="#5485C4" stroke="#5485C4" stroke-width="0.7" stroke-linejoin="round"/><polygon points="314.65,118.17 318.08,115.58 320.46,117.86 319.84,119.32 317.51,121.08 315.80,121.08" fill="#5485C4" stroke="#5485C4" stroke-width="0.7" stroke-linejoin="round"/><polygon points="318.39,124.55 321.25,122.22 323.54,122.84 325.87,124.55 328.20,126.84 330.49,130.32 331.68,132.65 330.49,133.79 329.92,135.55 330.49,138.46 327.06,138.46 325.87,134.94 323.54,131.50 319.54,126.27" fill="#5485C4" stroke="#5485C4" stroke-width="0.7" stroke-linejoin="round"/><polygon points="316.06,121.65 317.20,119.93 318.70,119.80 321.82,119.62 323.54,122.18 320.68,122.18 319.54,124.82 317.20,124.55" fill="#5485C4" stroke="#5485C4" stroke-width="0.7" stroke-linejoin="round"/><polygon points="312.32,118.00 314.08,117.56 314.74,119.32 312.98,119.54" fill="#5485C4" stroke="#5485C4" stroke-width="0.7" stroke-linejoin="round"/><polygon points="341.49,119.36 343.78,118.22 346.11,119.36 346.11,120.86 342.02,120.86" fill="#EE7B45"/></g>
<text x="323.40" y="83.86" font-size="5.2" text-anchor="middle" font-weight="bold" fill="#000">CD123</text>
<line x1="285.90" y1="144.45" x2="285.90" y2="130.00" stroke="#000" stroke-width="0.9"/>
<polygon points="283.90,130.50 287.90,130.50 285.90,126.50" fill="#000"/>
<line x1="285.45" y1="144.00" x2="306.40" y2="144.00" stroke="#000" stroke-width="0.9"/>
<polygon points="305.90,142.00 305.90,146.00 309.90,144.00" fill="#000"/>
<text x="45.00" y="75.50" font-size="4" text-anchor="start" fill="#000" stroke="#000" stroke-width="0.1">FI-tSNE1</text>
<text x="37.2" y="66" font-size="4" transform="rotate(-90 37.2 66)">FI-tSNE2</text>
<text x="74.40" y="107.54" font-size="8.2" text-anchor="middle" fill="#000" stroke="#000" stroke-width="0.1">Expression</text>
<defs><linearGradient id="rdylbu" x1="0" x2="1" y1="0" y2="0"><stop offset="0" stop-color="#4575B4"/><stop offset="0.2" stop-color="#91BFDB"/><stop offset="0.38" stop-color="#E0F3F8"/><stop offset="0.5" stop-color="#FFFFBF"/><stop offset="0.65" stop-color="#FEE090"/><stop offset="0.82" stop-color="#FC8D59"/><stop offset="1" stop-color="#D73027"/></linearGradient></defs>
<rect x="50.40" y="111.00" width="48.60" height="6.00" fill="url(#rdylbu)"/>
<text x="50.60" y="124.80" font-size="8.2" text-anchor="start" fill="#000" stroke="#000" stroke-width="0.1">min</text>
<text x="98.80" y="124.80" font-size="8.4" text-anchor="end" fill="#000" stroke="#000" stroke-width="0.1">max</text>
<line x1="386.00" y1="12.00" x2="386.00" y2="145.00" stroke="#EBEBEB" stroke-width="0.6"/>
<line x1="435.00" y1="12.00" x2="435.00" y2="145.00" stroke="#EBEBEB" stroke-width="0.6"/>
<line x1="483.00" y1="12.00" x2="483.00" y2="145.00" stroke="#EBEBEB" stroke-width="0.6"/>
<line x1="532.00" y1="12.00" x2="532.00" y2="145.00" stroke="#EBEBEB" stroke-width="0.6"/>
<line x1="374.00" y1="24.40" x2="545.00" y2="24.40" stroke="#EBEBEB" stroke-width="0.6"/>
<line x1="374.00" y1="59.00" x2="545.00" y2="59.00" stroke="#EBEBEB" stroke-width="0.6"/>
<line x1="374.00" y1="93.50" x2="545.00" y2="93.50" stroke="#EBEBEB" stroke-width="0.6"/>
<line x1="374.00" y1="128.00" x2="545.00" y2="128.00" stroke="#EBEBEB" stroke-width="0.6"/>
<g><polygon points="380.60,63.40 380.60,72.20 385.00,78.50 391.30,84.70 430.00,84.70 436.40,83.50 441.00,82.00 448.30,78.00 450.20,73.40 455.20,69.70 463.00,66.80 469.50,61.50 474.80,58.20 477.40,54.20 480.70,45.00 478.80,38.40 481.40,34.40 485.40,29.40 472.20,27.80 468.20,25.20 457.70,23.30 454.00,21.20 440.20,19.50 425.20,21.00 420.00,23.90 415.70,25.80 408.20,29.00 408.20,35.20 410.00,38.30 400.00,40.80 397.00,45.90 391.30,50.90 387.00,55.90" fill="#4E79A7" stroke="#4E79A7" stroke-width="1.1" stroke-linejoin="round"/><polygon points="393.10,87.20 430.00,84.80 437.80,84.20 441.80,89.10 445.70,95.70 452.90,102.30 462.00,114.20 467.30,122.00 470.00,128.00 469.00,133.00 465.40,136.40 454.90,139.00 448.30,135.10 440.40,127.20 431.20,118.00 423.40,122.00 403.60,119.40 393.10,111.50 390.50,104.90 388.50,99.00 390.50,91.80" fill="#F28E2B" stroke="#F28E2B" stroke-width="1.1" stroke-linejoin="round"/><polygon points="482.00,33.10 489.30,31.80 499.90,32.50 510.40,35.80 517.00,41.00 526.30,45.60 534.20,47.00 540.80,55.50 542.00,60.80 534.20,64.80 530.20,72.70 534.20,78.00 539.50,84.60 536.80,89.90 529.00,91.20 517.00,91.20 510.40,85.90 501.00,85.90 497.60,80.00 493.30,75.30 486.70,66.10 478.80,59.50 476.80,54.20 480.00,43.70 482.00,34.40" fill="#B07AA1" stroke="#B07AA1" stroke-width="1.1" stroke-linejoin="round"/><polygon points="465.60,21.20 470.80,17.90 474.80,19.30 477.40,23.20 467.00,23.60" fill="#B07AA1" stroke="#B07AA1" stroke-width="1.1" stroke-linejoin="round"/><polygon points="455.00,71.40 463.00,66.80 470.80,62.10 474.80,61.50 481.40,64.10 488.00,70.00 494.60,79.30 499.90,87.20 497.00,89.00 488.40,90.50 475.20,95.80 468.60,94.50 461.00,93.50 456.00,88.00 453.00,78.00" fill="#EDC948" stroke="#EDC948" stroke-width="1.1" stroke-linejoin="round"/><polygon points="472.60,97.10 479.20,95.80 485.70,93.10 497.60,90.50 506.80,91.80 518.60,94.50 525.10,101.00 523.80,108.90 521.20,116.80 510.70,122.00 500.20,124.70 491.00,127.30 483.10,126.00 480.50,118.10 476.50,108.90 473.90,101.00" fill="#59A14F" stroke="#59A14F" stroke-width="1.1" stroke-linejoin="round"/><polygon points="441.80,83.90 449.60,78.00 455.00,83.20 453.60,86.50 448.30,90.50 444.40,90.50" fill="#76B7B2" stroke="#76B7B2" stroke-width="1.1" stroke-linejoin="round"/><polygon points="450.30,98.40 456.80,93.10 462.00,94.50 467.30,98.40 472.60,103.60 477.80,111.50 480.50,116.80 477.80,119.40 476.50,123.40 477.80,130.00 470.00,130.00 467.30,122.00 462.00,114.20 452.90,102.30" fill="#76B7B2" stroke="#76B7B2" stroke-width="1.1" stroke-linejoin="round"/><polygon points="445.00,91.80 447.60,87.90 451.00,87.60 458.10,87.20 462.00,93.00 455.50,93.00 452.90,99.00 447.60,98.40" fill="#E15759" stroke="#E15759" stroke-width="1.1" stroke-linejoin="round"/><polygon points="436.50,83.50 440.50,82.50 442.00,86.50 438.00,87.00" fill="#E15759" stroke="#E15759" stroke-width="1.1" stroke-linejoin="round"/><polygon points="502.80,86.60 508.00,84.00 513.30,86.60 513.30,90.00 504.00,90.00" fill="#FF9DA7" stroke="#FF9DA7" stroke-width="1.1" stroke-linejoin="round"/></g>
<text x="461.00" y="7.66" font-size="8" text-anchor="middle" font-weight="bold" fill="#000">Lineage</text>
<line x1="373.40" y1="144.65" x2="373.40" y2="109.60" stroke="#000" stroke-width="1.3"/>
<polygon points="370.60,110.10 376.20,110.10 373.40,104.50" fill="#000"/>
<line x1="372.75" y1="144.00" x2="421.40" y2="144.00" stroke="#000" stroke-width="1.3"/>
<polygon points="420.90,141.20 420.90,146.80 426.50,144.00" fill="#000"/>
<text x="388.00" y="153.20" font-size="7" text-anchor="start" fill="#000" stroke="#000" stroke-width="0.1">FI-tSNE1</text>
<text x="369.2" y="119.5" font-size="7" text-anchor="middle" transform="rotate(-90 369.2 119.5)">FI-tSNE2</text>
<rect x="549.00" y="6.00" width="16.40" height="16.50" fill="#4E79A7"/>
<rect x="568.00" y="7.20" width="33.59" height="14.00" fill="#7D7DF7"/>
<text x="570.40" y="16.71" font-size="7" text-anchor="start" fill="#000" stroke="#000" stroke-width="0.1">36</text>
<text x="603.00" y="17.46" font-size="9.1" text-anchor="start" fill="#000" stroke="#000" stroke-width="0.1">CD4<tspan font-size="62%" baseline-shift="super">+</tspan>T</text>
<rect x="549.00" y="22.40" width="16.40" height="16.50" fill="#F28E2B"/>
<rect x="568.00" y="23.60" width="18.66" height="14.00" fill="#7D7DF7"/>
<text x="570.40" y="33.11" font-size="7" text-anchor="start" fill="#000" stroke="#000" stroke-width="0.1">20</text>
<text x="603.00" y="33.86" font-size="9.1" text-anchor="start" fill="#000" stroke="#000" stroke-width="0.1">CD8<tspan font-size="62%" baseline-shift="super">+</tspan>T</text>
<rect x="549.00" y="38.80" width="16.40" height="16.50" fill="#E15759"/>
<rect x="568.00" y="40.00" width="1.12" height="14.00" fill="#7D7DF7"/>
<text x="570.60" y="49.51" font-size="7" text-anchor="start" fill="#000" stroke="#000" stroke-width="0.1">1.2</text>
<text x="603.00" y="50.26" font-size="9.1" text-anchor="start" fill="#000" stroke="#000" stroke-width="0.1">Unconventional αβT</text>
<rect x="549.00" y="55.20" width="16.40" height="16.50" fill="#76B7B2"/>
<rect x="568.00" y="56.40" width="3.92" height="14.00" fill="#7D7DF7"/>
<text x="570.40" y="65.91" font-size="7" text-anchor="start" fill="#000" stroke="#000" stroke-width="0.1">4.2</text>
<text x="603.00" y="66.66" font-size="9.1" text-anchor="start" fill="#000" stroke="#000" stroke-width="0.1">γδT cells</text>
<rect x="549.00" y="71.60" width="16.40" height="16.50" fill="#59A14F"/>
<rect x="568.00" y="72.80" width="9.05" height="14.00" fill="#7D7DF7"/>
<text x="570.40" y="82.31" font-size="7" text-anchor="start" fill="#000" stroke="#000" stroke-width="0.1">9.7</text>
<text x="603.00" y="83.06" font-size="9.1" text-anchor="start" fill="#000" stroke="#000" stroke-width="0.1">NK/ILC</text>
<rect x="549.00" y="88.00" width="16.40" height="16.50" fill="#EDC948"/>
<rect x="568.00" y="89.20" width="8.40" height="14.00" fill="#7D7DF7"/>
<text x="570.40" y="98.71" font-size="7" text-anchor="start" fill="#000" stroke="#000" stroke-width="0.1">9</text>
<text x="603.00" y="99.46" font-size="9.1" text-anchor="start" fill="#000" stroke="#000" stroke-width="0.1">B cells</text>
<rect x="549.00" y="104.40" width="16.40" height="16.50" fill="#B07AA1"/>
<rect x="568.00" y="105.60" width="18.66" height="14.00" fill="#7D7DF7"/>
<text x="570.40" y="115.11" font-size="7" text-anchor="start" fill="#000" stroke="#000" stroke-width="0.1">20</text>
<text x="603.00" y="115.86" font-size="9.1" text-anchor="start" fill="#000" stroke="#000" stroke-width="0.1">Myeloids</text>
<rect x="549.00" y="120.80" width="16.40" height="16.50" fill="#FF9DA7"/>
<rect x="568.00" y="122.00" width="0.80" height="14.00" fill="#7D7DF7"/>
<text x="570.60" y="131.51" font-size="7" text-anchor="start" fill="#000" stroke="#000" stroke-width="0.1">0.36</text>
<text x="603.00" y="132.26" font-size="9.1" text-anchor="start" fill="#000" stroke="#000" stroke-width="0.1">Basophils</text>
<text x="585.00" y="144.27" font-size="6.9" text-anchor="middle" fill="#000" stroke="#000" stroke-width="0.1">Average</text>
<text x="585.00" y="151.67" font-size="6.9" text-anchor="middle" fill="#000" stroke="#000" stroke-width="0.1">Frequencies</text>
<text x="1.30" y="189.60" font-size="14.3" text-anchor="start" font-weight="bold" fill="#000">B</text>
<line x1="59.60" y1="176.00" x2="59.60" y2="312.00" stroke="#EBEBEB" stroke-width="0.7"/>
<line x1="121.60" y1="176.00" x2="121.60" y2="312.00" stroke="#EBEBEB" stroke-width="0.7"/>
<line x1="183.60" y1="176.00" x2="183.60" y2="312.00" stroke="#EBEBEB" stroke-width="0.7"/>
<line x1="245.60" y1="176.00" x2="245.60" y2="312.00" stroke="#EBEBEB" stroke-width="0.7"/>
<line x1="40.00" y1="190.40" x2="264.00" y2="190.40" stroke="#EBEBEB" stroke-width="0.7"/>
<line x1="40.00" y1="223.60" x2="264.00" y2="223.60" stroke="#EBEBEB" stroke-width="0.7"/>
<line x1="40.00" y1="256.50" x2="264.00" y2="256.50" stroke="#EBEBEB" stroke-width="0.7"/>
<line x1="40.00" y1="289.40" x2="264.00" y2="289.40" stroke="#EBEBEB" stroke-width="0.7"/>
<line x1="39.40" y1="313.00" x2="39.40" y2="243.00" stroke="#000" stroke-width="1.2"/>
<polygon points="36.80,243.50 42.00,243.50 39.40,238.50" fill="#000"/>
<line x1="39.40" y1="313.00" x2="103.00" y2="313.00" stroke="#000" stroke-width="1.2"/>
<polygon points="102.50,310.40 102.50,315.60 107.50,313.00" fill="#000"/>
<text x="35.11" y="273.00" font-size="7.3" text-anchor="middle" fill="#000" stroke="#000" stroke-width="0.1" transform="rotate(-90 35.11 273.00)">PC2: 15% expl. var</text>
<text x="88.00" y="321.61" font-size="7.3" text-anchor="middle" fill="#000" stroke="#000" stroke-width="0.1">PC1: 27% expl. var</text>
<text x="46.00" y="294.61" font-size="7.3" text-anchor="start" font-weight="bold" fill="#000">PERMANOVA</text>
<text x="46.00" y="301.61" font-size="7.3" text-anchor="start" font-weight="bold" fill="#000">P &lt; 0.001</text>
<text x="89.00" y="182.29" font-size="6.4" text-anchor="middle" font-weight="bold" fill="#2F86E6">Before</text>
<text x="88.70" y="189.29" font-size="6.4" text-anchor="middle" font-weight="bold" fill="#000">infection</text>
<text x="137.30" y="201.89" font-size="6.4" text-anchor="middle" font-weight="bold" fill="#EE1C25">After</text>
<text x="137.30" y="208.69" font-size="6.4" text-anchor="middle" font-weight="bold" fill="#000">infection</text>
<polygon points="61.60,181.50 94.50,207.50 93.00,221.50 48.50,217.00" fill="none" stroke="#222" stroke-width="0.8" stroke-dasharray="3,2"/>
<polygon points="84.00,261.00 141.00,213.50 208.00,180.00 257.00,205.00 239.00,303.00 235.60,306.40 124.00,302.00" fill="none" stroke="#222" stroke-width="0.8" stroke-dasharray="3,2"/>
<line x1="74.00" y1="207.00" x2="61.60" y2="182.40" stroke="#3B8FD6" stroke-width="1.8"/>
<line x1="74.00" y1="207.00" x2="49.00" y2="215.00" stroke="#3B8FD6" stroke-width="1.8"/>
<line x1="74.00" y1="207.00" x2="92.40" y2="209.60" stroke="#3B8FD6" stroke-width="1.8"/>
<line x1="74.00" y1="207.00" x2="92.00" y2="219.60" stroke="#3B8FD6" stroke-width="1.8"/>
<circle cx="61.60" cy="182.40" r="2.8" fill="#fff" fill-opacity="0" stroke="#3B8FD6" stroke-width="1.3"/>
<circle cx="49.00" cy="215.00" r="2.8" fill="#fff" fill-opacity="0" stroke="#3B8FD6" stroke-width="1.3"/>
<circle cx="92.40" cy="209.60" r="2.8" fill="#fff" fill-opacity="0" stroke="#3B8FD6" stroke-width="1.3"/>
<circle cx="92.00" cy="219.60" r="2.8" fill="#fff" fill-opacity="0" stroke="#3B8FD6" stroke-width="1.3"/>
<line x1="117.50" y1="245.50" x2="171.00" y2="205.00" stroke="#BDBDBD" stroke-width="1.8"/>
<line x1="117.50" y1="245.50" x2="86.00" y2="261.00" stroke="#BDBDBD" stroke-width="1.8"/>
<line x1="117.50" y1="245.50" x2="99.50" y2="269.50" stroke="#BDBDBD" stroke-width="1.8"/>
<line x1="167.40" y1="205.00" x2="174.60" y2="205.00" stroke="#BDBDBD" stroke-width="1.3"/>
<line x1="171.00" y1="201.40" x2="171.00" y2="208.60" stroke="#BDBDBD" stroke-width="1.3"/>
<line x1="82.40" y1="261.00" x2="89.60" y2="261.00" stroke="#BDBDBD" stroke-width="1.3"/>
<line x1="86.00" y1="257.40" x2="86.00" y2="264.60" stroke="#BDBDBD" stroke-width="1.3"/>
<line x1="95.90" y1="269.50" x2="103.10" y2="269.50" stroke="#BDBDBD" stroke-width="1.3"/>
<line x1="99.50" y1="265.90" x2="99.50" y2="273.10" stroke="#BDBDBD" stroke-width="1.3"/>
<line x1="176.00" y1="215.00" x2="208.00" y2="184.00" stroke="#1B9E77" stroke-width="1.8"/>
<line x1="176.00" y1="215.00" x2="113.00" y2="241.00" stroke="#1B9E77" stroke-width="1.8"/>
<line x1="176.00" y1="215.00" x2="212.00" y2="211.00" stroke="#1B9E77" stroke-width="1.8"/>
<line x1="176.00" y1="215.00" x2="171.00" y2="224.00" stroke="#1B9E77" stroke-width="1.8"/>
<line x1="204.90" y1="180.90" x2="211.10" y2="187.10" stroke="#1B9E77" stroke-width="1.3"/>
<line x1="204.90" y1="187.10" x2="211.10" y2="180.90" stroke="#1B9E77" stroke-width="1.3"/>
<line x1="109.90" y1="237.90" x2="116.10" y2="244.10" stroke="#1B9E77" stroke-width="1.3"/>
<line x1="109.90" y1="244.10" x2="116.10" y2="237.90" stroke="#1B9E77" stroke-width="1.3"/>
<line x1="208.90" y1="207.90" x2="215.10" y2="214.10" stroke="#1B9E77" stroke-width="1.3"/>
<line x1="208.90" y1="214.10" x2="215.10" y2="207.90" stroke="#1B9E77" stroke-width="1.3"/>
<line x1="167.90" y1="220.90" x2="174.10" y2="227.10" stroke="#1B9E77" stroke-width="1.3"/>
<line x1="167.90" y1="227.10" x2="174.10" y2="220.90" stroke="#1B9E77" stroke-width="1.3"/>
<line x1="171.50" y1="251.00" x2="182.00" y2="219.00" stroke="#F28E3C" stroke-width="1.8"/>
<line x1="171.50" y1="251.00" x2="179.00" y2="265.00" stroke="#F28E3C" stroke-width="1.8"/>
<line x1="171.50" y1="251.00" x2="133.00" y2="290.00" stroke="#F28E3C" stroke-width="1.8"/>
<line x1="171.50" y1="251.00" x2="192.00" y2="230.00" stroke="#F28E3C" stroke-width="1.8"/>
<polygon points="178.20,222.04 185.80,222.04 182.00,215.39" fill="none" stroke="#F28E3C" stroke-width="1.3"/>
<polygon points="175.20,268.04 182.80,268.04 179.00,261.39" fill="none" stroke="#F28E3C" stroke-width="1.3"/>
<polygon points="129.20,293.04 136.80,293.04 133.00,286.39" fill="none" stroke="#F28E3C" stroke-width="1.3"/>
<polygon points="188.20,233.04 195.80,233.04 192.00,226.39" fill="none" stroke="#F28E3C" stroke-width="1.3"/>
<line x1="189.00" y1="243.60" x2="153.00" y2="245.60" stroke="#D07FB6" stroke-width="1.8"/>
<line x1="189.00" y1="243.60" x2="148.00" y2="252.00" stroke="#D07FB6" stroke-width="1.8"/>
<line x1="189.00" y1="243.60" x2="201.00" y2="268.00" stroke="#D07FB6" stroke-width="1.8"/>
<line x1="189.00" y1="243.60" x2="253.00" y2="206.00" stroke="#D07FB6" stroke-width="1.8"/>
<polygon points="153.00,241.90 156.70,245.60 153.00,249.30 149.30,245.60" fill="none" stroke="#D07FB6" stroke-width="1.3"/>
<polygon points="148.00,248.30 151.70,252.00 148.00,255.70 144.30,252.00" fill="none" stroke="#D07FB6" stroke-width="1.3"/>
<polygon points="201.00,264.30 204.70,268.00 201.00,271.70 197.30,268.00" fill="none" stroke="#D07FB6" stroke-width="1.3"/>
<polygon points="253.00,202.30 256.70,206.00 253.00,209.70 249.30,206.00" fill="none" stroke="#D07FB6" stroke-width="1.3"/>
<line x1="165.00" y1="233.00" x2="141.00" y2="217.00" stroke="#EEDF3C" stroke-width="1.8"/>
<line x1="165.00" y1="233.00" x2="222.00" y2="214.00" stroke="#EEDF3C" stroke-width="1.8"/>
<line x1="165.00" y1="233.00" x2="128.00" y2="240.00" stroke="#EEDF3C" stroke-width="1.8"/>
<line x1="165.00" y1="233.00" x2="169.00" y2="260.00" stroke="#EEDF3C" stroke-width="1.8"/>
<polygon points="137.20,213.96 144.80,213.96 141.00,220.61" fill="none" stroke="#EEDF3C" stroke-width="1.3"/>
<polygon points="218.20,210.96 225.80,210.96 222.00,217.61" fill="none" stroke="#EEDF3C" stroke-width="1.3"/>
<polygon points="124.20,236.96 131.80,236.96 128.00,243.61" fill="none" stroke="#EEDF3C" stroke-width="1.3"/>
<polygon points="165.20,256.96 172.80,256.96 169.00,263.61" fill="none" stroke="#EEDF3C" stroke-width="1.3"/>
<line x1="174.00" y1="283.60" x2="192.00" y2="228.00" stroke="#000" stroke-width="2.0"/>
<line x1="174.00" y1="283.60" x2="126.00" y2="301.00" stroke="#000" stroke-width="2.0"/>
<line x1="174.00" y1="283.60" x2="142.00" y2="297.00" stroke="#000" stroke-width="2.0"/>
<line x1="174.00" y1="283.60" x2="235.60" y2="306.40" stroke="#000" stroke-width="2.0"/>
<rect x="188.80" y="224.80" width="6.40" height="6.40" fill="#000"/>
<line x1="190.08" y1="226.08" x2="193.92" y2="229.92" stroke="#fff" stroke-width="0.5"/>
<line x1="190.08" y1="229.92" x2="193.92" y2="226.08" stroke="#fff" stroke-width="0.5"/>
<rect x="122.80" y="297.80" width="6.40" height="6.40" fill="#000"/>
<line x1="124.08" y1="299.08" x2="127.92" y2="302.92" stroke="#fff" stroke-width="0.5"/>
<line x1="124.08" y1="302.92" x2="127.92" y2="299.08" stroke="#fff" stroke-width="0.5"/>
<rect x="138.80" y="293.80" width="6.40" height="6.40" fill="#000"/>
<line x1="140.08" y1="295.08" x2="143.92" y2="298.92" stroke="#fff" stroke-width="0.5"/>
<line x1="140.08" y1="298.92" x2="143.92" y2="295.08" stroke="#fff" stroke-width="0.5"/>
<rect x="232.40" y="303.20" width="6.40" height="6.40" fill="#000"/>
<line x1="233.68" y1="304.48" x2="237.52" y2="308.32" stroke="#fff" stroke-width="0.5"/>
<line x1="233.68" y1="308.32" x2="237.52" y2="304.48" stroke="#fff" stroke-width="0.5"/>
<rect x="264.4" y="194.4" width="41.2" height="67.6" fill="#fff" stroke="#666" stroke-width="0.7"/>
<text x="267.00" y="200.22" font-size="6.2" text-anchor="start" fill="#000" stroke="#000" stroke-width="0.1">Week</text>
<text x="267.00" y="206.62" font-size="6.2" text-anchor="start" fill="#000" stroke="#000" stroke-width="0.1">post-infection</text>
<circle cx="271.40" cy="214.40" r="2.8" fill="#fff" fill-opacity="0" stroke="#3B8FD6" stroke-width="1.3"/>
<text x="278.00" y="216.91" font-size="7" text-anchor="start" fill="#000" stroke="#000" stroke-width="0.1">0</text>
<polygon points="267.60,224.24 275.20,224.24 271.40,217.59" fill="none" stroke="#F28E3C" stroke-width="1.3"/>
<text x="278.00" y="223.71" font-size="7" text-anchor="start" fill="#000" stroke="#000" stroke-width="0.1">4</text>
<line x1="267.80" y1="228.20" x2="275.00" y2="228.20" stroke="#BDBDBD" stroke-width="1.3"/>
<line x1="271.40" y1="224.60" x2="271.40" y2="231.80" stroke="#BDBDBD" stroke-width="1.3"/>
<text x="278.00" y="230.71" font-size="7" text-anchor="start" fill="#000" stroke="#000" stroke-width="0.1">8</text>
<line x1="268.30" y1="231.90" x2="274.50" y2="238.10" stroke="#1B9E77" stroke-width="1.3"/>
<line x1="268.30" y1="238.10" x2="274.50" y2="231.90" stroke="#1B9E77" stroke-width="1.3"/>
<text x="278.00" y="237.51" font-size="7" text-anchor="start" fill="#000" stroke="#000" stroke-width="0.1">12</text>
<polygon points="271.40,238.30 275.10,242.00 271.40,245.70 267.70,242.00" fill="none" stroke="#D07FB6" stroke-width="1.3"/>
<text x="278.00" y="244.51" font-size="7" text-anchor="start" fill="#000" stroke="#000" stroke-width="0.1">28</text>
<polygon points="267.60,245.96 275.20,245.96 271.40,252.61" fill="none" stroke="#EEDF3C" stroke-width="1.3"/>
<text x="278.00" y="251.51" font-size="7" text-anchor="start" fill="#000" stroke="#000" stroke-width="0.1">52</text>
<rect x="268.20" y="252.80" width="6.40" height="6.40" fill="#000"/>
<line x1="269.48" y1="254.08" x2="273.32" y2="257.92" stroke="#fff" stroke-width="0.5"/>
<line x1="269.48" y1="257.92" x2="273.32" y2="254.08" stroke="#fff" stroke-width="0.5"/>
<text x="278.00" y="258.51" font-size="7" text-anchor="start" fill="#000" stroke="#000" stroke-width="0.1">104</text>
<text x="333.20" y="189.60" font-size="14.3" text-anchor="start" font-weight="bold" fill="#000">C</text>
<text x="389.30" y="188.39" font-size="7.8" text-anchor="middle" font-weight="bold" fill="#000">Decreased</text>
<text x="389.80" y="199.76" font-size="7.7" text-anchor="middle" fill="#000" stroke="#000" stroke-width="0.1">After Infection</text>
<text x="459.50" y="188.39" font-size="7.8" text-anchor="middle" font-weight="bold" fill="#000">Increased</text>
<text x="460.00" y="199.76" font-size="7.7" text-anchor="middle" fill="#000" stroke="#000" stroke-width="0.1">After Infection</text>
<line x1="418.00" y1="191.00" x2="357.00" y2="191.00" stroke="#000" stroke-width="1"/>
<polygon points="358.50,188.70 358.50,193.30 353.50,191.00" fill="#000"/>
<line x1="431.60" y1="191.00" x2="493.00" y2="191.00" stroke="#000" stroke-width="1"/>
<polygon points="491.50,188.70 491.50,193.30 496.50,191.00" fill="#000"/>
<rect x="424.40" y="201.60" width="79.60" height="16.40" fill="#D6604D"/>
<rect x="424.40" y="220.00" width="69.00" height="16.40" fill="#D6604D"/>
<rect x="424.40" y="238.40" width="57.20" height="16.40" fill="#D6604D"/>
<rect x="364.00" y="256.40" width="60.40" height="16.40" fill="#4393C3"/>
<rect x="362.60" y="274.80" width="61.80" height="16.40" fill="#4393C3"/>
<rect x="358.60" y="293.20" width="65.80" height="16.40" fill="#4393C3"/>
<line x1="424.40" y1="182.50" x2="424.40" y2="312.00" stroke="#000" stroke-width="0.9" stroke-dasharray="3.5,2.5"/>
<line x1="346.00" y1="312.00" x2="511.50" y2="312.00" stroke="#000" stroke-width="1.1"/>
<line x1="354.40" y1="312.00" x2="354.40" y2="315.00" stroke="#000" stroke-width="0.9"/>
<text x="354.40" y="324.75" font-size="8.8" text-anchor="middle" fill="#000" stroke="#000" stroke-width="0.1">−1.0</text>
<line x1="389.40" y1="312.00" x2="389.40" y2="315.00" stroke="#000" stroke-width="0.9"/>
<text x="389.40" y="324.75" font-size="8.8" text-anchor="middle" fill="#000" stroke="#000" stroke-width="0.1">−0.5</text>
<line x1="424.40" y1="312.00" x2="424.40" y2="315.00" stroke="#000" stroke-width="0.9"/>
<text x="424.40" y="324.75" font-size="8.8" text-anchor="middle" fill="#000" stroke="#000" stroke-width="0.1">0.0</text>
<line x1="459.40" y1="312.00" x2="459.40" y2="315.00" stroke="#000" stroke-width="0.9"/>
<text x="459.40" y="324.75" font-size="8.8" text-anchor="middle" fill="#000" stroke="#000" stroke-width="0.1">0.5</text>
<line x1="494.40" y1="312.00" x2="494.40" y2="315.00" stroke="#000" stroke-width="0.9"/>
<text x="494.40" y="324.75" font-size="8.8" text-anchor="middle" fill="#000" stroke="#000" stroke-width="0.1">1.0</text>
<text x="429.00" y="335.98" font-size="10" text-anchor="middle" fill="#000" stroke="#000" stroke-width="0.1">Coefficient</text>
<text x="516.40" y="213.06" font-size="9.1" text-anchor="start" fill="#000" stroke="#000" stroke-width="0.1">Cluster 43: pDC</text>
<text x="516.40" y="231.46" font-size="9.1" text-anchor="start" fill="#000" stroke="#000" stroke-width="0.1">Cluster 7: CD45RA<tspan font-size="62%" baseline-shift="super">+</tspan>Foxp3<tspan font-size="62%" baseline-shift="super">+</tspan>CD4<tspan font-size="62%" baseline-shift="super">+</tspan>T</text>
<text x="516.40" y="249.86" font-size="9.1" text-anchor="start" fill="#000" stroke="#000" stroke-width="0.1">Cluster 35: Basophils</text>
<text x="516.40" y="267.86" font-size="9.1" text-anchor="start" fill="#000" stroke="#000" stroke-width="0.1">Cluster 9: EM CD4<tspan font-size="62%" baseline-shift="super">+</tspan>T</text>
<text x="516.40" y="286.26" font-size="9.1" text-anchor="start" fill="#000" stroke="#000" stroke-width="0.1">Cluster 4: PD1<tspan font-size="62%" baseline-shift="super">+</tspan>CM CD4<tspan font-size="62%" baseline-shift="super">+</tspan>T</text>
<text x="516.40" y="304.66" font-size="9.1" text-anchor="start" fill="#000" stroke="#000" stroke-width="0.1">Cluster 19: CD161<tspan font-size="62%" baseline-shift="super">+</tspan>EM CD4<tspan font-size="62%" baseline-shift="super">+</tspan>T</text>
<text x="0.60" y="362.80" font-size="14.3" text-anchor="start" font-weight="bold" fill="#000">D</text>
<text x="38.40" y="359.04" font-size="9.6" text-anchor="start" fill="#000" stroke="#000" stroke-width="0.1">Cluster 43: pDC</text>
<line x1="38.60" y1="365.60" x2="38.60" y2="438.60" stroke="#000" stroke-width="1.2"/>
<line x1="38.00" y1="438.00" x2="302.00" y2="438.00" stroke="#000" stroke-width="1.2"/>
<line x1="35.60" y1="384.40" x2="38.60" y2="384.40" stroke="#000" stroke-width="0.9"/>
<text x="29.20" y="387.62" font-size="9" text-anchor="end" fill="#000" stroke="#000" stroke-width="0.1">1.0</text>
<line x1="35.60" y1="409.60" x2="38.60" y2="409.60" stroke="#000" stroke-width="0.9"/>
<text x="29.20" y="412.82" font-size="9" text-anchor="end" fill="#000" stroke="#000" stroke-width="0.1">0.5</text>
<line x1="35.60" y1="434.80" x2="38.60" y2="434.80" stroke="#000" stroke-width="0.9"/>
<text x="29.20" y="438.02" font-size="9" text-anchor="end" fill="#000" stroke="#000" stroke-width="0.1">0.0</text>
<text x="13.74" y="405.40" font-size="9.6" text-anchor="middle" fill="#000" stroke="#000" stroke-width="0.1" transform="rotate(-90 13.74 405.40)">LFC</text>
<line x1="50.00" y1="438.00" x2="50.00" y2="441.00" stroke="#000" stroke-width="0.9"/>
<text x="50.00" y="450.81" font-size="8.4" text-anchor="middle" fill="#000" stroke="#000" stroke-width="0.1">0</text>
<line x1="59.20" y1="438.00" x2="59.20" y2="441.00" stroke="#000" stroke-width="0.9"/>
<text x="59.20" y="450.81" font-size="8.4" text-anchor="middle" fill="#000" stroke="#000" stroke-width="0.1">4</text>
<line x1="68.40" y1="438.00" x2="68.40" y2="441.00" stroke="#000" stroke-width="0.9"/>
<text x="68.40" y="450.81" font-size="8.4" text-anchor="middle" fill="#000" stroke="#000" stroke-width="0.1">8</text>
<line x1="77.60" y1="438.00" x2="77.60" y2="441.00" stroke="#000" stroke-width="0.9"/>
<text x="77.60" y="450.81" font-size="8.4" text-anchor="middle" fill="#000" stroke="#000" stroke-width="0.1">12</text>
<line x1="114.40" y1="438.00" x2="114.40" y2="441.00" stroke="#000" stroke-width="0.9"/>
<text x="114.40" y="450.81" font-size="8.4" text-anchor="middle" fill="#000" stroke="#000" stroke-width="0.1">28</text>
<line x1="169.60" y1="438.00" x2="169.60" y2="441.00" stroke="#000" stroke-width="0.9"/>
<text x="169.60" y="450.81" font-size="8.4" text-anchor="middle" fill="#000" stroke="#000" stroke-width="0.1">52</text>
<line x1="289.20" y1="438.00" x2="289.20" y2="441.00" stroke="#000" stroke-width="0.9"/>
<text x="289.20" y="450.81" font-size="8.4" text-anchor="middle" fill="#000" stroke="#000" stroke-width="0.1">104</text>
<line x1="38.60" y1="434.80" x2="301.00" y2="434.80" stroke="#222" stroke-width="1.2" stroke-dasharray="1.4,1.5"/>
<polyline points="50.00,434.80 59.20,384.00 68.40,368.60 77.60,399.60 114.40,401.60 169.60,384.40 289.20,379.00" fill="none" stroke="#E69F00" stroke-width="0.9"/>
<circle cx="50.00" cy="434.80" r="3.2" fill="#E69F00"/>
<circle cx="59.20" cy="384.00" r="3.2" fill="#E69F00"/>
<circle cx="68.40" cy="368.60" r="3.2" fill="#E69F00"/>
<circle cx="77.60" cy="399.60" r="3.2" fill="#E69F00"/>
<circle cx="114.40" cy="401.60" r="3.2" fill="#E69F00"/>
<circle cx="169.60" cy="384.40" r="3.2" fill="#E69F00"/>
<circle cx="289.20" cy="379.00" r="3.2" fill="#E69F00"/>
<polyline points="50.00,434.80 59.20,382.40 68.40,402.00 77.60,396.00 114.40,373.40 169.60,379.00 289.20,376.40" fill="none" stroke="#56B4E9" stroke-width="0.9"/>
<polygon points="46.10,437.73 53.90,437.73 50.00,431.10" fill="#56B4E9"/>
<polygon points="55.30,385.32 63.10,385.32 59.20,378.69" fill="#56B4E9"/>
<polygon points="64.50,404.93 72.30,404.93 68.40,398.30" fill="#56B4E9"/>
<polygon points="73.70,398.93 81.50,398.93 77.60,392.30" fill="#56B4E9"/>
<polygon points="110.50,376.32 118.30,376.32 114.40,369.69" fill="#56B4E9"/>
<polygon points="165.70,381.93 173.50,381.93 169.60,375.30" fill="#56B4E9"/>
<polygon points="285.30,379.32 293.10,379.32 289.20,372.69" fill="#56B4E9"/>
<polyline points="50.00,434.80 59.20,391.60 68.40,379.60 77.60,400.00 114.40,391.00 169.60,399.00 289.20,383.60" fill="none" stroke="#009E73" stroke-width="0.9"/>
<rect x="47.00" y="431.80" width="6.00" height="6.00" fill="#009E73"/>
<rect x="56.20" y="388.60" width="6.00" height="6.00" fill="#009E73"/>
<rect x="65.40" y="376.60" width="6.00" height="6.00" fill="#009E73"/>
<rect x="74.60" y="397.00" width="6.00" height="6.00" fill="#009E73"/>
<rect x="111.40" y="388.00" width="6.00" height="6.00" fill="#009E73"/>
<rect x="166.60" y="396.00" width="6.00" height="6.00" fill="#009E73"/>
<rect x="286.20" y="380.60" width="6.00" height="6.00" fill="#009E73"/>
<polyline points="50.00,434.80 59.20,412.00 68.40,400.00 77.60,387.60 114.40,400.50 169.60,407.00 289.20,374.40" fill="none" stroke="#D55E00" stroke-width="0.9"/>
<line x1="45.60" y1="434.80" x2="54.40" y2="434.80" stroke="#D55E00" stroke-width="1.1"/>
<line x1="50.00" y1="430.40" x2="50.00" y2="439.20" stroke="#D55E00" stroke-width="1.1"/>
<line x1="54.80" y1="412.00" x2="63.60" y2="412.00" stroke="#D55E00" stroke-width="1.1"/>
<line x1="59.20" y1="407.60" x2="59.20" y2="416.40" stroke="#D55E00" stroke-width="1.1"/>
<line x1="64.00" y1="400.00" x2="72.80" y2="400.00" stroke="#D55E00" stroke-width="1.1"/>
<line x1="68.40" y1="395.60" x2="68.40" y2="404.40" stroke="#D55E00" stroke-width="1.1"/>
<line x1="73.20" y1="387.60" x2="82.00" y2="387.60" stroke="#D55E00" stroke-width="1.1"/>
<line x1="77.60" y1="383.20" x2="77.60" y2="392.00" stroke="#D55E00" stroke-width="1.1"/>
<line x1="110.00" y1="400.50" x2="118.80" y2="400.50" stroke="#D55E00" stroke-width="1.1"/>
<line x1="114.40" y1="396.10" x2="114.40" y2="404.90" stroke="#D55E00" stroke-width="1.1"/>
<line x1="165.20" y1="407.00" x2="174.00" y2="407.00" stroke="#D55E00" stroke-width="1.1"/>
<line x1="169.60" y1="402.60" x2="169.60" y2="411.40" stroke="#D55E00" stroke-width="1.1"/>
<line x1="284.80" y1="374.40" x2="293.60" y2="374.40" stroke="#D55E00" stroke-width="1.1"/>
<line x1="289.20" y1="370.00" x2="289.20" y2="378.80" stroke="#D55E00" stroke-width="1.1"/>
<text x="54.00" y="381.00" font-size="9.5" text-anchor="middle" fill="#000" stroke="#000" stroke-width="0.1">***</text>
<text x="68.00" y="367.00" font-size="9.5" text-anchor="middle" fill="#000" stroke="#000" stroke-width="0.1">***</text>
<text x="80.00" y="384.00" font-size="9.5" text-anchor="middle" fill="#000" stroke="#000" stroke-width="0.1">***</text>
<text x="114.40" y="371.60" font-size="9.5" text-anchor="middle" fill="#000" stroke="#000" stroke-width="0.1">***</text>
<text x="169.60" y="376.40" font-size="9.5" text-anchor="middle" fill="#000" stroke="#000" stroke-width="0.1">***</text>
<text x="289.60" y="372.00" font-size="9.5" text-anchor="middle" fill="#000" stroke="#000" stroke-width="0.1">***</text>
<text x="157.00" y="364.44" font-size="9.6" text-anchor="start" fill="#000" stroke="#000" stroke-width="0.1">ID</text>
<line x1="174.00" y1="361.00" x2="183.00" y2="361.00" stroke="#E69F00" stroke-width="0.9"/>
<circle cx="178.60" cy="361.00" r="2.6" fill="#E69F00"/>
<text x="188.00" y="364.44" font-size="9.6" text-anchor="start" fill="#000" stroke="#000" stroke-width="0.1">D1</text>
<line x1="205.00" y1="361.00" x2="214.00" y2="361.00" stroke="#56B4E9" stroke-width="0.9"/>
<polygon points="206.60,363.25 212.60,363.25 209.60,358.15" fill="#56B4E9"/>
<text x="219.60" y="364.44" font-size="9.6" text-anchor="start" fill="#000" stroke="#000" stroke-width="0.1">D2</text>
<line x1="237.00" y1="361.00" x2="245.60" y2="361.00" stroke="#009E73" stroke-width="0.9"/>
<rect x="238.80" y="358.60" width="4.80" height="4.80" fill="#009E73"/>
<text x="251.00" y="364.44" font-size="9.6" text-anchor="start" fill="#000" stroke="#000" stroke-width="0.1">D3</text>
<line x1="268.00" y1="361.00" x2="277.00" y2="361.00" stroke="#D55E00" stroke-width="0.9"/>
<line x1="268.70" y1="361.00" x2="275.70" y2="361.00" stroke="#D55E00" stroke-width="0.9"/>
<line x1="272.20" y1="357.50" x2="272.20" y2="364.50" stroke="#D55E00" stroke-width="0.9"/>
<text x="282.40" y="364.44" font-size="9.6" text-anchor="start" fill="#000" stroke="#000" stroke-width="0.1">D4</text>
<text x="160.60" y="462.11" font-size="9.8" text-anchor="middle" fill="#000" stroke="#000" stroke-width="0.1">WPI</text>
<text x="317.20" y="362.80" font-size="14.3" text-anchor="start" font-weight="bold" fill="#000">E</text>
<text x="345.60" y="359.84" font-size="9.6" text-anchor="start" fill="#000" stroke="#000" stroke-width="0.1">Cluster 35: Basophils</text>
<line x1="345.40" y1="366.00" x2="345.40" y2="439.60" stroke="#000" stroke-width="1.2"/>
<line x1="344.80" y1="439.00" x2="608.40" y2="439.00" stroke="#000" stroke-width="1.2"/>
<line x1="342.40" y1="384.40" x2="345.40" y2="384.40" stroke="#000" stroke-width="0.9"/>
<text x="338.00" y="387.55" font-size="8.8" text-anchor="end" fill="#000" stroke="#000" stroke-width="0.1">2</text>
<line x1="342.40" y1="403.60" x2="345.40" y2="403.60" stroke="#000" stroke-width="0.9"/>
<text x="338.00" y="406.75" font-size="8.8" text-anchor="end" fill="#000" stroke="#000" stroke-width="0.1">1</text>
<line x1="342.40" y1="422.60" x2="345.40" y2="422.60" stroke="#000" stroke-width="0.9"/>
<text x="338.00" y="425.75" font-size="8.8" text-anchor="end" fill="#000" stroke="#000" stroke-width="0.1">0</text>
<text x="326.64" y="405.60" font-size="9.6" text-anchor="middle" fill="#000" stroke="#000" stroke-width="0.1" transform="rotate(-90 326.64 405.60)">LFC</text>
<line x1="356.60" y1="439.00" x2="356.60" y2="442.00" stroke="#000" stroke-width="0.9"/>
<text x="356.60" y="450.81" font-size="8.4" text-anchor="middle" fill="#000" stroke="#000" stroke-width="0.1">0</text>
<line x1="365.86" y1="439.00" x2="365.86" y2="442.00" stroke="#000" stroke-width="0.9"/>
<text x="365.86" y="450.81" font-size="8.4" text-anchor="middle" fill="#000" stroke="#000" stroke-width="0.1">4</text>
<line x1="375.12" y1="439.00" x2="375.12" y2="442.00" stroke="#000" stroke-width="0.9"/>
<text x="375.12" y="450.81" font-size="8.4" text-anchor="middle" fill="#000" stroke="#000" stroke-width="0.1">8</text>
<line x1="384.38" y1="439.00" x2="384.38" y2="442.00" stroke="#000" stroke-width="0.9"/>
<text x="384.38" y="450.81" font-size="8.4" text-anchor="middle" fill="#000" stroke="#000" stroke-width="0.1">12</text>
<line x1="421.42" y1="439.00" x2="421.42" y2="442.00" stroke="#000" stroke-width="0.9"/>
<text x="421.42" y="450.81" font-size="8.4" text-anchor="middle" fill="#000" stroke="#000" stroke-width="0.1">28</text>
<line x1="476.98" y1="439.00" x2="476.98" y2="442.00" stroke="#000" stroke-width="0.9"/>
<text x="476.98" y="450.81" font-size="8.4" text-anchor="middle" fill="#000" stroke="#000" stroke-width="0.1">52</text>
<line x1="597.36" y1="439.00" x2="597.36" y2="442.00" stroke="#000" stroke-width="0.9"/>
<text x="597.36" y="450.81" font-size="8.4" text-anchor="middle" fill="#000" stroke="#000" stroke-width="0.1">104</text>
<line x1="345.40" y1="422.60" x2="608.00" y2="422.60" stroke="#222" stroke-width="1.2" stroke-dasharray="1.4,1.5"/>
<polyline points="356.60,422.60 365.86,399.60 375.12,415.00 384.38,415.00 421.42,407.00 476.98,436.00 597.36,413.40" fill="none" stroke="#E69F00" stroke-width="0.9"/>
<circle cx="356.60" cy="422.60" r="3.2" fill="#E69F00"/>
<circle cx="365.86" cy="399.60" r="3.2" fill="#E69F00"/>
<circle cx="375.12" cy="415.00" r="3.2" fill="#E69F00"/>
<circle cx="384.38" cy="415.00" r="3.2" fill="#E69F00"/>
<circle cx="421.42" cy="407.00" r="3.2" fill="#E69F00"/>
<circle cx="476.98" cy="436.00" r="3.2" fill="#E69F00"/>
<circle cx="597.36" cy="413.40" r="3.2" fill="#E69F00"/>
<polyline points="356.60,422.60 365.86,389.00 375.12,369.00 384.38,377.00 421.42,385.00 476.98,389.00 597.36,402.40" fill="none" stroke="#56B4E9" stroke-width="0.9"/>
<polygon points="352.70,425.53 360.50,425.53 356.60,418.90" fill="#56B4E9"/>
<polygon points="361.96,391.93 369.76,391.93 365.86,385.30" fill="#56B4E9"/>
<polygon points="371.22,371.93 379.02,371.93 375.12,365.30" fill="#56B4E9"/>
<polygon points="380.48,379.93 388.28,379.93 384.38,373.30" fill="#56B4E9"/>
<polygon points="417.52,387.93 425.32,387.93 421.42,381.30" fill="#56B4E9"/>
<polygon points="473.08,391.93 480.88,391.93 476.98,385.30" fill="#56B4E9"/>
<polygon points="593.46,405.32 601.26,405.32 597.36,398.69" fill="#56B4E9"/>
<polyline points="356.60,422.60 365.86,408.00 375.12,406.60 384.38,393.00 421.42,411.00 476.98,416.40 597.36,433.00" fill="none" stroke="#009E73" stroke-width="0.9"/>
<rect x="353.60" y="419.60" width="6.00" height="6.00" fill="#009E73"/>
<rect x="362.86" y="405.00" width="6.00" height="6.00" fill="#009E73"/>
<rect x="372.12" y="403.60" width="6.00" height="6.00" fill="#009E73"/>
<rect x="381.38" y="390.00" width="6.00" height="6.00" fill="#009E73"/>
<rect x="418.42" y="408.00" width="6.00" height="6.00" fill="#009E73"/>
<rect x="473.98" y="413.40" width="6.00" height="6.00" fill="#009E73"/>
<rect x="594.36" y="430.00" width="6.00" height="6.00" fill="#009E73"/>
<polyline points="356.60,422.60 365.86,396.60 375.12,399.00 384.38,402.00 421.42,388.00 476.98,409.00 597.36,407.00" fill="none" stroke="#D55E00" stroke-width="0.9"/>
<line x1="352.20" y1="422.60" x2="361.00" y2="422.60" stroke="#D55E00" stroke-width="1.1"/>
<line x1="356.60" y1="418.20" x2="356.60" y2="427.00" stroke="#D55E00" stroke-width="1.1"/>
<line x1="361.46" y1="396.60" x2="370.26" y2="396.60" stroke="#D55E00" stroke-width="1.1"/>
<line x1="365.86" y1="392.20" x2="365.86" y2="401.00" stroke="#D55E00" stroke-width="1.1"/>
<line x1="370.72" y1="399.00" x2="379.52" y2="399.00" stroke="#D55E00" stroke-width="1.1"/>
<line x1="375.12" y1="394.60" x2="375.12" y2="403.40" stroke="#D55E00" stroke-width="1.1"/>
<line x1="379.98" y1="402.00" x2="388.78" y2="402.00" stroke="#D55E00" stroke-width="1.1"/>
<line x1="384.38" y1="397.60" x2="384.38" y2="406.40" stroke="#D55E00" stroke-width="1.1"/>
<line x1="417.02" y1="388.00" x2="425.82" y2="388.00" stroke="#D55E00" stroke-width="1.1"/>
<line x1="421.42" y1="383.60" x2="421.42" y2="392.40" stroke="#D55E00" stroke-width="1.1"/>
<line x1="472.58" y1="409.00" x2="481.38" y2="409.00" stroke="#D55E00" stroke-width="1.1"/>
<line x1="476.98" y1="404.60" x2="476.98" y2="413.40" stroke="#D55E00" stroke-width="1.1"/>
<line x1="592.96" y1="407.00" x2="601.76" y2="407.00" stroke="#D55E00" stroke-width="1.1"/>
<line x1="597.36" y1="402.60" x2="597.36" y2="411.40" stroke="#D55E00" stroke-width="1.1"/>
<text x="364.00" y="388.00" font-size="9.5" text-anchor="middle" fill="#000" stroke="#000" stroke-width="0.1">**</text>
<text x="375.00" y="368.40" font-size="9.5" text-anchor="middle" fill="#000" stroke="#000" stroke-width="0.1">***</text>
<text x="386.00" y="375.60" font-size="9.5" text-anchor="middle" fill="#000" stroke="#000" stroke-width="0.1">***</text>
<text x="421.00" y="381.60" font-size="9.5" text-anchor="middle" fill="#000" stroke="#000" stroke-width="0.1">***</text>
<text x="467.00" y="461.91" font-size="9.8" text-anchor="middle" fill="#000" stroke="#000" stroke-width="0.1">WPI</text>
<text x="0.60" y="472.80" font-size="14.3" text-anchor="start" font-weight="bold" fill="#000">F</text>
<line x1="39.00" y1="479.00" x2="39.00" y2="572.60" stroke="#000" stroke-width="1.2"/>
<line x1="38.40" y1="572.00" x2="166.40" y2="572.00" stroke="#000" stroke-width="1.2"/>
<line x1="36.00" y1="498.60" x2="39.00" y2="498.60" stroke="#000" stroke-width="0.9"/>
<text x="35.10" y="501.79" font-size="8.9" text-anchor="end" fill="#000" stroke="#000" stroke-width="0.1">0.75</text>
<line x1="36.00" y1="526.00" x2="39.00" y2="526.00" stroke="#000" stroke-width="0.9"/>
<text x="35.10" y="529.19" font-size="8.9" text-anchor="end" fill="#000" stroke="#000" stroke-width="0.1">0.50</text>
<line x1="36.00" y1="553.40" x2="39.00" y2="553.40" stroke="#000" stroke-width="0.9"/>
<text x="35.10" y="556.59" font-size="8.9" text-anchor="end" fill="#000" stroke="#000" stroke-width="0.1">0.25</text>
<line x1="57.00" y1="572.00" x2="57.00" y2="575.00" stroke="#000" stroke-width="0.9"/>
<text x="57.00" y="583.34" font-size="8.5" text-anchor="middle" fill="#000" stroke="#000" stroke-width="0.1">0</text>
<line x1="87.00" y1="572.00" x2="87.00" y2="575.00" stroke="#000" stroke-width="0.9"/>
<text x="87.00" y="583.34" font-size="8.5" text-anchor="middle" fill="#000" stroke="#000" stroke-width="0.1">12</text>
<line x1="117.60" y1="572.00" x2="117.60" y2="575.00" stroke="#000" stroke-width="0.9"/>
<text x="117.60" y="583.34" font-size="8.5" text-anchor="middle" fill="#000" stroke="#000" stroke-width="0.1">104</text>
<line x1="148.00" y1="572.00" x2="148.00" y2="575.00" stroke="#000" stroke-width="0.9"/>
<text x="148.00" y="583.34" font-size="8.5" text-anchor="middle" fill="#000" stroke="#000" stroke-width="0.1">HW<tspan font-size="62%" baseline-shift="super">+</tspan></text>
<text x="87.00" y="590.61" font-size="8.4" text-anchor="middle" fill="#000" stroke="#000" stroke-width="0.1">WPI</text>
<line x1="132.60" y1="483.00" x2="132.60" y2="572.00" stroke="#111" stroke-width="1.4" stroke-dasharray="5.5,4.3"/>
<polyline points="57.00,537.60 87.00,499.00 117.60,483.40" fill="none" stroke="#D55E00" stroke-width="1.3"/>
<line x1="53.80" y1="537.60" x2="60.20" y2="537.60" stroke="#D55E00" stroke-width="1"/>
<line x1="57.00" y1="534.40" x2="57.00" y2="540.80" stroke="#D55E00" stroke-width="1"/>
<line x1="83.80" y1="499.00" x2="90.20" y2="499.00" stroke="#D55E00" stroke-width="1"/>
<line x1="87.00" y1="495.80" x2="87.00" y2="502.20" stroke="#D55E00" stroke-width="1"/>
<line x1="114.40" y1="483.40" x2="120.80" y2="483.40" stroke="#D55E00" stroke-width="1"/>
<line x1="117.60" y1="480.20" x2="117.60" y2="486.60" stroke="#D55E00" stroke-width="1"/>
<polyline points="57.00,546.00 87.00,524.00 117.60,505.00" fill="none" stroke="#56B4E9" stroke-width="1.3"/>
<polygon points="54.40,547.95 59.60,547.95 57.00,543.53" fill="#56B4E9"/>
<polygon points="84.40,525.95 89.60,525.95 87.00,521.53" fill="#56B4E9"/>
<polygon points="115.00,506.95 120.20,506.95 117.60,502.53" fill="#56B4E9"/>
<polyline points="57.00,561.00 87.00,549.00 117.60,538.60" fill="none" stroke="#E69F00" stroke-width="1.3"/>
<circle cx="57.00" cy="561.00" r="2" fill="#E69F00"/>
<circle cx="87.00" cy="549.00" r="2" fill="#E69F00"/>
<circle cx="117.60" cy="538.60" r="2" fill="#E69F00"/>
<polyline points="57.00,565.00 87.00,556.00 117.60,550.00" fill="none" stroke="#009E73" stroke-width="1.3"/>
<rect x="55.20" y="563.20" width="3.60" height="3.60" fill="#009E73"/>
<rect x="85.20" y="554.20" width="3.60" height="3.60" fill="#009E73"/>
<rect x="115.80" y="548.20" width="3.60" height="3.60" fill="#009E73"/>
<line x1="49.60" y1="554.00" x2="65.00" y2="554.00" stroke="#000" stroke-width="1.6"/>
<line x1="79.60" y1="536.40" x2="95.00" y2="536.40" stroke="#000" stroke-width="1.6"/>
<line x1="110.00" y1="522.00" x2="125.00" y2="522.00" stroke="#000" stroke-width="1.6"/>
<line x1="140.00" y1="528.60" x2="156.00" y2="528.60" stroke="#000" stroke-width="1.6"/>
<polygon points="148.00,503.70 149.90,505.60 148.00,507.50 146.10,505.60" fill="#D67DB8"/>
<polygon points="148.00,514.10 149.90,516.00 148.00,517.90 146.10,516.00" fill="#D67DB8"/>
<polygon points="148.00,518.70 149.90,520.60 148.00,522.50 146.10,520.60" fill="#D67DB8"/>
<polygon points="148.00,520.70 149.90,522.60 148.00,524.50 146.10,522.60" fill="#D67DB8"/>
<polygon points="148.00,533.10 149.90,535.00 148.00,536.90 146.10,535.00" fill="#D67DB8"/>
<polygon points="148.00,535.50 149.90,537.40 148.00,539.30 146.10,537.40" fill="#D67DB8"/>
<polygon points="148.00,565.50 149.90,567.40 148.00,569.30 146.10,567.40" fill="#D67DB8"/>
<line x1="48.00" y1="592.40" x2="128.00" y2="592.40" stroke="#000" stroke-width="0.8"/>
<line x1="132.00" y1="592.40" x2="160.00" y2="592.40" stroke="#000" stroke-width="0.8"/>
<text x="87.00" y="600.08" font-size="8.6" text-anchor="middle" font-weight="bold" fill="#000">CHHIL</text>
<text x="148.00" y="600.01" font-size="8.4" text-anchor="middle" font-weight="bold" fill="#000">Flores</text>
<polyline points="57.60,481.60 57.60,479.00 148.00,479.00 148.00,481.60" fill="none" stroke="#444" stroke-width="0.9"/>
<text x="103.50" y="478.14" font-size="8.2" text-anchor="middle" fill="#000" stroke="#000" stroke-width="0.1">0.039</text>
<text x="39.00" y="473.04" font-size="8.5" text-anchor="start" fill="#000" stroke="#000" stroke-width="0.1">pDC</text>
<text x="13.58" y="528.00" font-size="10" text-anchor="middle" fill="#000" stroke="#000" stroke-width="0.1" transform="rotate(-90 13.58 528.00)">% of CD45<tspan font-size="62%" baseline-shift="super">+</tspan></text>
<line x1="204.20" y1="478.00" x2="204.20" y2="572.60" stroke="#000" stroke-width="1.2"/>
<line x1="203.60" y1="572.00" x2="331.60" y2="572.00" stroke="#000" stroke-width="1.2"/>
<line x1="201.20" y1="501.00" x2="204.20" y2="501.00" stroke="#000" stroke-width="0.9"/>
<text x="200.30" y="504.19" font-size="8.9" text-anchor="end" fill="#000" stroke="#000" stroke-width="0.1">1.0</text>
<line x1="201.20" y1="535.00" x2="204.20" y2="535.00" stroke="#000" stroke-width="0.9"/>
<text x="200.30" y="538.19" font-size="8.9" text-anchor="end" fill="#000" stroke="#000" stroke-width="0.1">0.5</text>
<line x1="201.20" y1="569.00" x2="204.20" y2="569.00" stroke="#000" stroke-width="0.9"/>
<text x="200.30" y="572.19" font-size="8.9" text-anchor="end" fill="#000" stroke="#000" stroke-width="0.1">0.0</text>
<line x1="222.00" y1="572.00" x2="222.00" y2="575.00" stroke="#000" stroke-width="0.9"/>
<text x="222.00" y="583.34" font-size="8.5" text-anchor="middle" fill="#000" stroke="#000" stroke-width="0.1">0</text>
<line x1="252.40" y1="572.00" x2="252.40" y2="575.00" stroke="#000" stroke-width="0.9"/>
<text x="252.40" y="583.34" font-size="8.5" text-anchor="middle" fill="#000" stroke="#000" stroke-width="0.1">12</text>
<line x1="282.60" y1="572.00" x2="282.60" y2="575.00" stroke="#000" stroke-width="0.9"/>
<text x="282.60" y="583.34" font-size="8.5" text-anchor="middle" fill="#000" stroke="#000" stroke-width="0.1">104</text>
<line x1="313.00" y1="572.00" x2="313.00" y2="575.00" stroke="#000" stroke-width="0.9"/>
<text x="313.00" y="583.34" font-size="8.5" text-anchor="middle" fill="#000" stroke="#000" stroke-width="0.1">HW<tspan font-size="62%" baseline-shift="super">+</tspan></text>
<text x="252.40" y="590.61" font-size="8.4" text-anchor="middle" fill="#000" stroke="#000" stroke-width="0.1">WPI</text>
<line x1="298.00" y1="483.00" x2="298.00" y2="572.00" stroke="#111" stroke-width="1.4" stroke-dasharray="5.5,4.3"/>
<polyline points="222.00,539.60 252.40,483.00 282.60,549.00" fill="none" stroke="#009E73" stroke-width="1.3"/>
<rect x="220.20" y="537.80" width="3.60" height="3.60" fill="#009E73"/>
<rect x="250.60" y="481.20" width="3.60" height="3.60" fill="#009E73"/>
<rect x="280.80" y="547.20" width="3.60" height="3.60" fill="#009E73"/>
<polyline points="222.00,562.00 252.40,536.00 282.60,555.40" fill="none" stroke="#56B4E9" stroke-width="1.3"/>
<polygon points="219.40,563.95 224.60,563.95 222.00,559.53" fill="#56B4E9"/>
<polygon points="249.80,537.95 255.00,537.95 252.40,533.53" fill="#56B4E9"/>
<polygon points="280.00,557.35 285.20,557.35 282.60,552.93" fill="#56B4E9"/>
<polyline points="222.00,560.00 252.40,552.60 282.60,554.60" fill="none" stroke="#D55E00" stroke-width="1.3"/>
<line x1="218.80" y1="560.00" x2="225.20" y2="560.00" stroke="#D55E00" stroke-width="1"/>
<line x1="222.00" y1="556.80" x2="222.00" y2="563.20" stroke="#D55E00" stroke-width="1"/>
<line x1="249.20" y1="552.60" x2="255.60" y2="552.60" stroke="#D55E00" stroke-width="1"/>
<line x1="252.40" y1="549.40" x2="252.40" y2="555.80" stroke="#D55E00" stroke-width="1"/>
<line x1="279.40" y1="554.60" x2="285.80" y2="554.60" stroke="#D55E00" stroke-width="1"/>
<line x1="282.60" y1="551.40" x2="282.60" y2="557.80" stroke="#D55E00" stroke-width="1"/>
<polyline points="222.00,559.40 252.40,557.00 282.60,556.00" fill="none" stroke="#E69F00" stroke-width="1.3"/>
<circle cx="222.00" cy="559.40" r="2" fill="#E69F00"/>
<circle cx="252.40" cy="557.00" r="2" fill="#E69F00"/>
<circle cx="282.60" cy="556.00" r="2" fill="#E69F00"/>
<line x1="214.40" y1="560.60" x2="230.00" y2="560.60" stroke="#000" stroke-width="1.6"/>
<line x1="245.00" y1="544.40" x2="260.00" y2="544.40" stroke="#000" stroke-width="1.6"/>
<line x1="275.00" y1="555.40" x2="290.40" y2="555.40" stroke="#000" stroke-width="1.6"/>
<line x1="305.60" y1="558.40" x2="321.00" y2="558.40" stroke="#000" stroke-width="1.6"/>
<polygon points="313.00,501.50 314.90,503.40 313.00,505.30 311.10,503.40" fill="#D67DB8"/>
<polygon points="313.00,542.50 314.90,544.40 313.00,546.30 311.10,544.40" fill="#D67DB8"/>
<polygon points="313.00,555.50 314.90,557.40 313.00,559.30 311.10,557.40" fill="#D67DB8"/>
<polygon points="313.00,565.10 314.90,567.00 313.00,568.90 311.10,567.00" fill="#D67DB8"/>
<line x1="214.40" y1="592.40" x2="294.40" y2="592.40" stroke="#000" stroke-width="0.8"/>
<line x1="299.00" y1="592.40" x2="326.00" y2="592.40" stroke="#000" stroke-width="0.8"/>
<text x="252.40" y="600.08" font-size="8.6" text-anchor="middle" font-weight="bold" fill="#000">CHHIL</text>
<text x="313.00" y="600.01" font-size="8.4" text-anchor="middle" font-weight="bold" fill="#000">Flores</text>
<text x="204.00" y="472.57" font-size="8.3" text-anchor="start" fill="#000" stroke="#000" stroke-width="0.1">Basophils</text>
<text x="183.58" y="528.00" font-size="10" text-anchor="middle" fill="#000" stroke="#000" stroke-width="0.1" transform="rotate(-90 183.58 528.00)">% of CD45<tspan font-size="62%" baseline-shift="super">+</tspan></text>
<text x="342.40" y="473.20" font-size="14.3" text-anchor="start" font-weight="bold" fill="#000">G</text>
<line x1="372.60" y1="465.60" x2="372.60" y2="573.00" stroke="#000" stroke-width="1.2"/>
<line x1="372.00" y1="572.40" x2="505.00" y2="572.40" stroke="#000" stroke-width="1.2"/>
<line x1="369.60" y1="493.60" x2="372.60" y2="493.60" stroke="#000" stroke-width="0.9"/>
<text x="368.70" y="496.79" font-size="8.9" text-anchor="end" fill="#000" stroke="#000" stroke-width="0.1">40</text>
<line x1="369.60" y1="516.00" x2="372.60" y2="516.00" stroke="#000" stroke-width="0.9"/>
<text x="368.70" y="519.19" font-size="8.9" text-anchor="end" fill="#000" stroke="#000" stroke-width="0.1">30</text>
<line x1="369.60" y1="538.00" x2="372.60" y2="538.00" stroke="#000" stroke-width="0.9"/>
<text x="368.70" y="541.19" font-size="8.9" text-anchor="end" fill="#000" stroke="#000" stroke-width="0.1">20</text>
<line x1="369.60" y1="560.00" x2="372.60" y2="560.00" stroke="#000" stroke-width="0.9"/>
<text x="368.70" y="563.19" font-size="8.9" text-anchor="end" fill="#000" stroke="#000" stroke-width="0.1">10</text>
<line x1="387.40" y1="572.40" x2="387.40" y2="575.40" stroke="#000" stroke-width="0.9"/>
<text x="387.40" y="583.34" font-size="8.5" text-anchor="middle" fill="#000" stroke="#000" stroke-width="0.1">0</text>
<line x1="418.00" y1="572.40" x2="418.00" y2="575.40" stroke="#000" stroke-width="0.9"/>
<text x="418.00" y="583.34" font-size="8.5" text-anchor="middle" fill="#000" stroke="#000" stroke-width="0.1">12</text>
<line x1="448.60" y1="572.40" x2="448.60" y2="575.40" stroke="#000" stroke-width="0.9"/>
<text x="448.60" y="583.34" font-size="8.5" text-anchor="middle" fill="#000" stroke="#000" stroke-width="0.1">104</text>
<line x1="489.40" y1="572.40" x2="489.40" y2="575.40" stroke="#000" stroke-width="0.9"/>
<text x="489.40" y="583.34" font-size="8.5" text-anchor="middle" fill="#000" stroke="#000" stroke-width="0.1">HW<tspan font-size="62%" baseline-shift="super">+</tspan></text>
<text x="418.00" y="590.61" font-size="8.4" text-anchor="middle" fill="#000" stroke="#000" stroke-width="0.1">WPI</text>
<line x1="469.40" y1="484.40" x2="469.40" y2="572.40" stroke="#111" stroke-width="1.4" stroke-dasharray="5.5,4.3"/>
<polyline points="387.40,505.60 418.00,486.00 448.60,483.40" fill="none" stroke="#E69F00" stroke-width="1.3"/>
<circle cx="387.40" cy="505.60" r="2.5" fill="#E69F00"/>
<circle cx="418.00" cy="486.00" r="2.5" fill="#E69F00"/>
<circle cx="448.60" cy="483.40" r="2.5" fill="#E69F00"/>
<polyline points="387.40,516.60 418.00,494.00 448.60,561.50" fill="none" stroke="#009E73" stroke-width="1.3"/>
<rect x="385.00" y="514.20" width="4.80" height="4.80" fill="#009E73"/>
<rect x="415.60" y="491.60" width="4.80" height="4.80" fill="#009E73"/>
<rect x="446.20" y="559.10" width="4.80" height="4.80" fill="#009E73"/>
<polyline points="387.40,507.60 418.00,548.00 448.60,549.60" fill="none" stroke="#D55E00" stroke-width="1.3"/>
<line x1="383.60" y1="507.60" x2="391.20" y2="507.60" stroke="#D55E00" stroke-width="1"/>
<line x1="387.40" y1="503.80" x2="387.40" y2="511.40" stroke="#D55E00" stroke-width="1"/>
<line x1="414.20" y1="548.00" x2="421.80" y2="548.00" stroke="#D55E00" stroke-width="1"/>
<line x1="418.00" y1="544.20" x2="418.00" y2="551.80" stroke="#D55E00" stroke-width="1"/>
<line x1="444.80" y1="549.60" x2="452.40" y2="549.60" stroke="#D55E00" stroke-width="1"/>
<line x1="448.60" y1="545.80" x2="448.60" y2="553.40" stroke="#D55E00" stroke-width="1"/>
<polyline points="387.40,529.00 418.00,530.00 448.60,550.60" fill="none" stroke="#56B4E9" stroke-width="1.3"/>
<polygon points="384.20,531.40 390.60,531.40 387.40,525.96" fill="#56B4E9"/>
<polygon points="414.80,532.40 421.20,532.40 418.00,526.96" fill="#56B4E9"/>
<polygon points="445.40,553.00 451.80,553.00 448.60,547.56" fill="#56B4E9"/>
<line x1="378.00" y1="512.00" x2="397.00" y2="512.00" stroke="#000" stroke-width="1.6"/>
<line x1="409.00" y1="512.00" x2="426.00" y2="512.00" stroke="#000" stroke-width="1.6"/>
<line x1="440.00" y1="550.00" x2="458.00" y2="550.00" stroke="#000" stroke-width="1.6"/>
<line x1="481.00" y1="564.40" x2="499.00" y2="564.40" stroke="#000" stroke-width="1.6"/>
<polygon points="489.40,557.10 491.30,559.00 489.40,560.90 487.50,559.00" fill="#D67DB8"/>
<polygon points="489.40,562.10 491.30,564.00 489.40,565.90 487.50,564.00" fill="#D67DB8"/>
<polygon points="489.40,566.10 491.30,568.00 489.40,569.90 487.50,568.00" fill="#D67DB8"/>
<line x1="381.00" y1="594.40" x2="460.40" y2="594.40" stroke="#000" stroke-width="0.8"/>
<line x1="476.00" y1="594.40" x2="502.40" y2="594.40" stroke="#000" stroke-width="0.8"/>
<text x="418.00" y="602.08" font-size="8.6" text-anchor="middle" font-weight="bold" fill="#000">CHHIL</text>
<text x="489.40" y="602.01" font-size="8.4" text-anchor="middle" font-weight="bold" fill="#000">Flores</text>
<polyline points="422.00,473.60 422.00,471.00 488.00,471.00 488.00,473.60" fill="none" stroke="#8a8a8a" stroke-width="0.9"/>
<text x="455.50" y="470.75" font-size="6" text-anchor="middle" fill="#000" stroke="#000" stroke-width="0.1">0.015</text>
<polyline points="389.40,480.60 389.40,478.00 488.00,478.00 488.00,480.60" fill="none" stroke="#4a3a3a" stroke-width="0.9"/>
<text x="439.50" y="477.75" font-size="6" text-anchor="middle" fill="#000" stroke="#000" stroke-width="0.1">&lt; 0.001</text>
<text x="354.58" y="521.00" font-size="10" text-anchor="middle" fill="#000" stroke="#000" stroke-width="0.1" transform="rotate(-90 354.58 521.00)">% IFNα<tspan font-size="62%" baseline-shift="super">+</tspan> of pDC</text>
<line x1="540.60" y1="465.60" x2="540.60" y2="573.00" stroke="#000" stroke-width="1.2"/>
<line x1="540.00" y1="572.40" x2="673.00" y2="572.40" stroke="#000" stroke-width="1.2"/>
<line x1="537.60" y1="487.00" x2="540.60" y2="487.00" stroke="#000" stroke-width="0.9"/>
<text x="536.70" y="490.19" font-size="8.9" text-anchor="end" fill="#000" stroke="#000" stroke-width="0.1">70</text>
<line x1="537.60" y1="504.00" x2="540.60" y2="504.00" stroke="#000" stroke-width="0.9"/>
<text x="536.70" y="507.19" font-size="8.9" text-anchor="end" fill="#000" stroke="#000" stroke-width="0.1">60</text>
<line x1="537.60" y1="521.00" x2="540.60" y2="521.00" stroke="#000" stroke-width="0.9"/>
<text x="536.70" y="524.19" font-size="8.9" text-anchor="end" fill="#000" stroke="#000" stroke-width="0.1">50</text>
<line x1="537.60" y1="538.00" x2="540.60" y2="538.00" stroke="#000" stroke-width="0.9"/>
<text x="536.70" y="541.19" font-size="8.9" text-anchor="end" fill="#000" stroke="#000" stroke-width="0.1">40</text>
<line x1="537.60" y1="554.60" x2="540.60" y2="554.60" stroke="#000" stroke-width="0.9"/>
<text x="536.70" y="557.79" font-size="8.9" text-anchor="end" fill="#000" stroke="#000" stroke-width="0.1">30</text>
<line x1="537.60" y1="572.00" x2="540.60" y2="572.00" stroke="#000" stroke-width="0.9"/>
<text x="536.70" y="575.19" font-size="8.9" text-anchor="end" fill="#000" stroke="#000" stroke-width="0.1">20</text>
<line x1="555.00" y1="572.40" x2="555.00" y2="575.40" stroke="#000" stroke-width="0.9"/>
<text x="555.00" y="583.34" font-size="8.5" text-anchor="middle" fill="#000" stroke="#000" stroke-width="0.1">0</text>
<line x1="585.60" y1="572.40" x2="585.60" y2="575.40" stroke="#000" stroke-width="0.9"/>
<text x="585.60" y="583.34" font-size="8.5" text-anchor="middle" fill="#000" stroke="#000" stroke-width="0.1">12</text>
<line x1="616.40" y1="572.40" x2="616.40" y2="575.40" stroke="#000" stroke-width="0.9"/>
<text x="616.40" y="583.34" font-size="8.5" text-anchor="middle" fill="#000" stroke="#000" stroke-width="0.1">104</text>
<line x1="657.00" y1="572.40" x2="657.00" y2="575.40" stroke="#000" stroke-width="0.9"/>
<text x="657.00" y="583.34" font-size="8.5" text-anchor="middle" fill="#000" stroke="#000" stroke-width="0.1">HW<tspan font-size="62%" baseline-shift="super">+</tspan></text>
<text x="585.60" y="590.61" font-size="8.4" text-anchor="middle" fill="#000" stroke="#000" stroke-width="0.1">WPI</text>
<line x1="637.00" y1="478.00" x2="637.00" y2="572.40" stroke="#111" stroke-width="1.4" stroke-dasharray="5.5,4.3"/>
<polyline points="555.00,484.00 585.60,482.00 616.40,489.60" fill="none" stroke="#E69F00" stroke-width="1.3"/>
<circle cx="555.00" cy="484.00" r="2.5" fill="#E69F00"/>
<circle cx="585.60" cy="482.00" r="2.5" fill="#E69F00"/>
<circle cx="616.40" cy="489.60" r="2.5" fill="#E69F00"/>
<polyline points="555.00,510.60 585.60,515.00 616.40,567.60" fill="none" stroke="#009E73" stroke-width="1.3"/>
<rect x="552.60" y="508.20" width="4.80" height="4.80" fill="#009E73"/>
<rect x="583.20" y="512.60" width="4.80" height="4.80" fill="#009E73"/>
<rect x="614.00" y="565.20" width="4.80" height="4.80" fill="#009E73"/>
<polyline points="555.00,521.60 585.60,550.60 616.40,559.00" fill="none" stroke="#D55E00" stroke-width="1.3"/>
<line x1="551.20" y1="521.60" x2="558.80" y2="521.60" stroke="#D55E00" stroke-width="1"/>
<line x1="555.00" y1="517.80" x2="555.00" y2="525.40" stroke="#D55E00" stroke-width="1"/>
<line x1="581.80" y1="550.60" x2="589.40" y2="550.60" stroke="#D55E00" stroke-width="1"/>
<line x1="585.60" y1="546.80" x2="585.60" y2="554.40" stroke="#D55E00" stroke-width="1"/>
<line x1="612.60" y1="559.00" x2="620.20" y2="559.00" stroke="#D55E00" stroke-width="1"/>
<line x1="616.40" y1="555.20" x2="616.40" y2="562.80" stroke="#D55E00" stroke-width="1"/>
<polyline points="555.00,532.00 585.60,549.00 616.40,561.00" fill="none" stroke="#56B4E9" stroke-width="1.3"/>
<polygon points="551.80,534.40 558.20,534.40 555.00,528.96" fill="#56B4E9"/>
<polygon points="582.40,551.40 588.80,551.40 585.60,545.96" fill="#56B4E9"/>
<polygon points="613.20,563.40 619.60,563.40 616.40,557.96" fill="#56B4E9"/>
<line x1="546.00" y1="516.00" x2="563.60" y2="516.00" stroke="#000" stroke-width="1.6"/>
<line x1="577.00" y1="532.00" x2="595.00" y2="532.00" stroke="#000" stroke-width="1.6"/>
<line x1="607.00" y1="560.60" x2="625.00" y2="560.60" stroke="#000" stroke-width="1.6"/>
<line x1="648.00" y1="550.60" x2="666.00" y2="550.60" stroke="#000" stroke-width="1.6"/>
<polygon points="657.00,528.10 658.90,530.00 657.00,531.90 655.10,530.00" fill="#D67DB8"/>
<polygon points="657.00,548.70 658.90,550.60 657.00,552.50 655.10,550.60" fill="#D67DB8"/>
<polygon points="657.00,553.70 658.90,555.60 657.00,557.50 655.10,555.60" fill="#D67DB8"/>
<line x1="548.00" y1="594.40" x2="628.00" y2="594.40" stroke="#000" stroke-width="0.8"/>
<line x1="643.60" y1="594.40" x2="670.00" y2="594.40" stroke="#000" stroke-width="0.8"/>
<text x="585.60" y="602.08" font-size="8.6" text-anchor="middle" font-weight="bold" fill="#000">CHHIL</text>
<text x="657.00" y="602.01" font-size="8.4" text-anchor="middle" font-weight="bold" fill="#000">Flores</text>
<polyline points="555.00,473.60 555.00,471.00 657.40,471.00 657.40,473.60" fill="none" stroke="#4a3a3a" stroke-width="0.9"/>
<text x="604.00" y="469.55" font-size="6" text-anchor="middle" fill="#000" stroke="#000" stroke-width="0.1">0.047</text>
<polyline points="555.00,480.60 555.00,478.00 617.00,478.00 617.00,480.60" fill="none" stroke="#8a8a8a" stroke-width="0.9"/>
<text x="587.60" y="477.15" font-size="6" text-anchor="middle" fill="#000" stroke="#000" stroke-width="0.1">0.026</text>
<text x="525.98" y="520.50" font-size="10" text-anchor="middle" fill="#000" stroke="#000" stroke-width="0.1" transform="rotate(-90 525.98 520.50)">% TNF<tspan font-size="62%" baseline-shift="super">+</tspan> of pDC</text>
</svg></body></html>
